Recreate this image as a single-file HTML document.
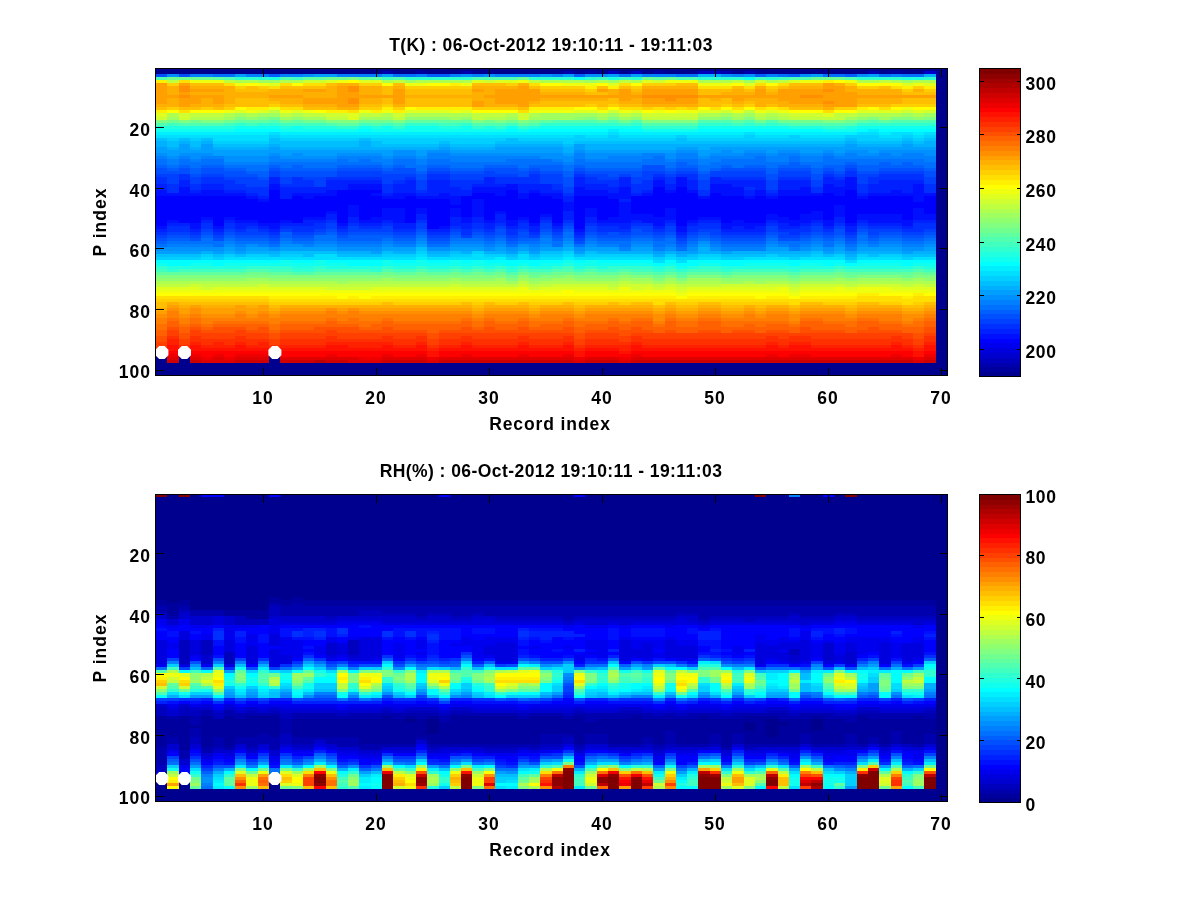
<!DOCTYPE html>
<html><head><meta charset="utf-8"><title>plot</title>
<style>
html,body{margin:0;padding:0;background:#fff;}
svg{display:block}
text{font-family:"Liberation Sans",sans-serif;font-weight:bold;fill:#000;filter:grayscale(1)}
.tk text{font-size:17.5px;letter-spacing:1px}
.lb{font-size:17.5px}
</style></head><body>
<svg width="1200" height="900" viewBox="0 0 1200 900">
<rect width="1200" height="900" fill="#fff"/>
<svg x="156" y="68.5" width="791" height="307.0" viewBox="0 0.2225 70 100.82" preserveAspectRatio="none" shape-rendering="crispEdges"><path fill="#00008f" d="M0 94h1v3h-1zM0 1h20v1h-20zM0 0h70v1h-70zM0 97h70v4h-70zM2 94h1v3h-1zM10 94h1v3h-1zM21 1h2v1h-2zM24 1h3v1h-3zM28 1h8v1h-8zM37 1h1v1h-1zM39 1h1v1h-1zM41 1h1v1h-1zM43 1h1v1h-1zM45 1h3v1h-3zM51 1h1v1h-1zM53 1h10v1h-10zM64 1h1v1h-1zM66 1h2v1h-2zM69 1h1v96h-1z"/><path fill="#00009f" d="M23 1h1v1h-1zM38 1h1v1h-1zM44 1h1v1h-1zM65 1h1v1h-1z"/><path fill="#0000af" d="M20 1h1v1h-1zM27 1h1v1h-1zM36 1h1v1h-1zM50 1h1v1h-1zM52 1h1v1h-1zM63 1h1v1h-1z"/><path fill="#0000bf" d="M40 1h1v1h-1zM42 1h1v1h-1zM48 1h2v1h-2z"/><path fill="#0000cf" d="M68 1h1v1h-1z"/><path fill="#0000ff" d="M0 50h1v2h-1zM0 49h4v1h-4zM0 42h8v1h-8zM0 43h9v1h-9zM0 47h15v2h-15zM0 45h17v2h-17zM0 44h26v1h-26zM2 50h2v1h-2zM5 49h1v3h-1zM7 49h6v1h-6zM9 50h2v1h-2zM10 40h1v3h-1zM10 43h16v1h-16zM12 42h1v1h-1zM12 50h1v1h-1zM14 42h6v1h-6zM16 47h1v4h-1zM16 41h3v1h-3zM16 40h4v1h-4zM18 49h1v1h-1zM18 46h2v3h-2zM18 45h10v1h-10zM22 42h1v1h-1zM22 46h1v5h-1zM24 52h1v1h-1zM24 46h2v6h-2zM27 43h1v2h-1zM27 46h1v3h-1zM27 42h5v1h-5zM28 41h2v1h-2zM29 47h1v3h-1zM29 43h7v4h-7zM31 40h1v2h-1zM31 49h1v1h-1zM31 48h3v1h-3zM31 47h5v1h-5zM33 41h1v1h-1zM33 49h1v2h-1zM33 42h2v1h-2zM35 48h1v3h-1zM37 46h1v7h-1zM37 42h3v1h-3zM37 43h4v3h-4zM39 49h1v1h-1zM39 46h2v3h-2zM42 46h3v2h-3zM42 42h6v1h-6zM42 45h18v1h-18zM42 43h25v1h-25zM42 44h27v1h-27zM44 39h1v2h-1zM44 48h1v1h-1zM44 41h4v1h-4zM46 39h1v2h-1zM46 50h1v2h-1zM46 49h2v1h-2zM46 48h8v1h-8zM46 47h12v1h-12zM46 46h14v1h-14zM49 41h1v1h-1zM49 42h3v1h-3zM50 50h1v1h-1zM50 49h4v1h-4zM52 50h2v1h-2zM53 42h1v1h-1zM55 48h2v1h-2zM55 42h7v1h-7zM56 49h1v1h-1zM59 41h1v1h-1zM59 47h1v3h-1zM61 40h1v2h-1zM61 48h1v3h-1zM61 46h6v2h-6zM61 45h8v1h-8zM63 42h4v1h-4zM66 48h1v2h-1zM68 42h1v2h-1zM68 46h1v2h-1z"/><path fill="#0010ff" d="M0 40h1v1h-1zM0 52h1v1h-1zM0 41h8v1h-8zM1 50h1v1h-1zM2 39h1v2h-1zM3 51h1v2h-1zM4 49h1v1h-1zM4 40h2v1h-2zM5 52h1v1h-1zM6 49h1v1h-1zM7 50h2v1h-2zM8 42h1v1h-1zM9 43h1v1h-1zM9 51h2v1h-2zM10 38h1v2h-1zM10 52h1v1h-1zM11 50h1v1h-1zM12 41h4v1h-4zM13 42h1v1h-1zM13 49h2v1h-2zM15 40h1v1h-1zM15 47h1v1h-1zM16 51h1v1h-1zM17 45h1v4h-1zM17 38h3v2h-3zM18 50h2v1h-2zM19 41h1v1h-1zM19 49h3v1h-3zM20 42h2v1h-2zM20 46h2v3h-2zM21 50h1v1h-1zM21 41h2v1h-2zM23 46h1v2h-1zM23 42h4v1h-4zM25 41h1v1h-1zM25 52h1v1h-1zM26 43h1v2h-1zM26 46h1v3h-1zM27 49h1v2h-1zM28 43h1v6h-1zM28 40h3v1h-3zM28 39h4v1h-4zM29 50h1v1h-1zM30 41h1v1h-1zM30 47h1v1h-1zM31 38h1v1h-1zM31 50h1v2h-1zM32 41h1v2h-1zM32 49h1v1h-1zM33 40h1v1h-1zM33 51h1v1h-1zM34 48h1v1h-1zM34 41h2v1h-2zM35 42h1v1h-1zM35 51h1v1h-1zM36 44h1v3h-1zM37 39h1v1h-1zM37 53h1v1h-1zM37 40h3v1h-3zM37 41h5v1h-5zM38 46h1v3h-1zM39 50h3v1h-3zM40 42h2v1h-2zM40 49h6v1h-6zM41 39h1v2h-1zM41 44h1v4h-1zM41 48h3v1h-3zM43 41h1v1h-1zM43 50h2v1h-2zM44 37h1v2h-1zM44 51h1v1h-1zM45 40h1v1h-1zM45 46h1v3h-1zM46 36h1v3h-1zM46 52h1v2h-1zM47 40h1v1h-1zM47 50h1v1h-1zM48 42h1v1h-1zM48 49h2v1h-2zM49 38h2v1h-2zM49 39h3v2h-3zM50 52h1v1h-1zM50 41h2v1h-2zM50 51h4v1h-4zM51 50h1v1h-1zM52 42h1v1h-1zM52 52h1v1h-1zM53 40h1v2h-1zM54 42h1v1h-1zM54 48h1v1h-1zM54 49h2v1h-2zM55 40h3v1h-3zM55 50h3v1h-3zM55 41h4v1h-4zM56 51h1v1h-1zM57 39h1v1h-1zM57 48h2v2h-2zM58 47h1v1h-1zM59 38h1v1h-1zM59 50h1v2h-1zM59 40h2v1h-2zM59 39h3v1h-3zM60 41h1v1h-1zM60 45h1v4h-1zM61 36h1v3h-1zM61 51h1v1h-1zM62 42h1v1h-1zM62 48h4v2h-4zM63 50h4v1h-4zM63 41h6v1h-6zM65 40h1v1h-1zM66 51h1v1h-1zM67 38h1v3h-1zM67 42h1v2h-1zM67 46h1v2h-1zM67 48h2v2h-2z"/><path fill="#0020ff" d="M0 38h1v2h-1zM0 53h1v1h-1zM1 51h2v1h-2zM2 37h1v2h-1zM3 40h1v1h-1zM3 53h1v1h-1zM4 50h1v1h-1zM4 38h2v2h-2zM5 53h1v1h-1zM6 50h1v1h-1zM6 40h2v1h-2zM7 52h1v1h-1zM7 51h2v1h-2zM8 41h1v1h-1zM9 42h1v1h-1zM9 52h1v1h-1zM10 36h1v2h-1zM10 53h1v1h-1zM11 41h1v2h-1zM11 51h3v1h-3zM11 40h4v1h-4zM11 39h6v1h-6zM13 50h2v1h-2zM15 48h1v2h-1zM15 38h2v1h-2zM15 37h5v1h-5zM16 52h1v1h-1zM17 49h1v2h-1zM18 51h2v1h-2zM20 41h1v1h-1zM20 50h1v1h-1zM21 38h2v3h-2zM21 51h2v2h-2zM22 37h1v1h-1zM23 48h1v2h-1zM23 41h2v1h-2zM24 37h2v2h-2zM24 53h2v1h-2zM24 39h3v1h-3zM24 40h4v1h-4zM26 49h1v2h-1zM26 41h2v1h-2zM26 51h2v1h-2zM27 52h1v1h-1zM28 49h1v2h-1zM28 38h3v1h-3zM29 36h1v2h-1zM29 51h1v2h-1zM30 48h1v3h-1zM31 52h1v1h-1zM32 40h1v1h-1zM32 50h1v1h-1zM32 38h3v2h-3zM33 52h1v2h-1zM34 49h1v1h-1zM34 40h2v1h-2zM35 52h1v1h-1zM36 42h1v2h-1zM36 47h1v3h-1zM37 36h1v2h-1zM37 54h1v1h-1zM37 38h3v1h-3zM38 49h1v2h-1zM38 39h3v1h-3zM39 51h3v1h-3zM40 40h1v1h-1zM41 36h1v3h-1zM41 43h1v1h-1zM41 52h1v1h-1zM42 41h1v1h-1zM42 50h1v1h-1zM43 40h1v1h-1zM44 36h1v1h-1zM44 52h1v1h-1zM45 38h1v2h-1zM45 50h1v1h-1zM46 54h1v1h-1zM47 37h1v3h-1zM47 51h1v1h-1zM48 50h2v1h-2zM49 36h1v1h-1zM49 37h5v1h-5zM50 53h4v1h-4zM51 52h1v1h-1zM51 38h3v1h-3zM52 40h1v2h-1zM53 39h1v1h-1zM53 52h1v1h-1zM54 41h1v1h-1zM54 50h1v1h-1zM55 51h1v1h-1zM55 39h2v1h-2zM55 52h2v1h-2zM55 37h3v2h-3zM57 51h1v1h-1zM58 50h1v1h-1zM59 36h1v1h-1zM59 52h1v1h-1zM59 37h2v1h-2zM60 38h1v1h-1zM60 49h1v2h-1zM61 52h1v2h-1zM62 41h1v1h-1zM62 50h1v1h-1zM63 40h2v1h-2zM63 51h3v1h-3zM63 38h4v2h-4zM64 37h4v1h-4zM66 40h1v1h-1zM66 52h1v1h-1zM67 50h2v1h-2z"/><path fill="#0030ff" d="M0 36h1v2h-1zM0 54h1v1h-1zM1 38h1v3h-1zM1 52h2v2h-2zM2 35h1v2h-1zM3 38h1v2h-1zM3 54h1v1h-1zM4 51h1v2h-1zM4 36h2v1h-2zM4 37h3v1h-3zM5 54h1v1h-1zM6 51h1v2h-1zM6 38h2v1h-2zM6 39h4v1h-4zM7 53h1v1h-1zM8 52h1v1h-1zM8 40h2v1h-2zM9 41h1v1h-1zM9 53h1v1h-1zM10 54h1v1h-1zM11 38h3v1h-3zM11 52h4v1h-4zM12 36h1v1h-1zM12 37h2v1h-2zM12 53h2v1h-2zM14 51h1v1h-1zM15 50h1v1h-1zM15 36h5v1h-5zM16 53h1v1h-1zM17 51h1v1h-1zM18 52h2v1h-2zM20 38h1v3h-1zM20 51h1v1h-1zM21 37h1v1h-1zM21 53h2v1h-2zM22 36h1v1h-1zM23 40h1v1h-1zM23 50h1v1h-1zM24 35h2v2h-2zM24 54h2v1h-2zM26 52h1v1h-1zM26 38h2v1h-2zM26 37h3v1h-3zM27 39h1v1h-1zM27 53h1v2h-1zM28 51h1v2h-1zM29 53h1v1h-1zM30 51h1v1h-1zM30 36h4v2h-4zM31 53h1v2h-1zM32 51h1v2h-1zM33 35h1v1h-1zM33 54h1v1h-1zM34 50h1v1h-1zM35 38h1v2h-1zM35 53h1v1h-1zM36 41h1v1h-1zM36 50h1v1h-1zM37 35h1v1h-1zM37 55h1v1h-1zM38 36h1v1h-1zM38 51h1v1h-1zM38 37h3v1h-3zM39 52h2v1h-2zM39 53h3v1h-3zM40 38h1v1h-1zM42 40h1v1h-1zM42 38h2v2h-2zM42 51h2v1h-2zM43 37h1v1h-1zM44 35h1v1h-1zM44 53h1v1h-1zM45 36h1v2h-1zM45 51h1v1h-1zM46 55h1v1h-1zM46 35h2v1h-2zM47 36h1v1h-1zM47 53h1v1h-1zM47 52h3v1h-3zM48 40h1v2h-1zM48 51h2v1h-2zM50 36h4v1h-4zM50 54h4v1h-4zM52 39h1v1h-1zM54 40h1v1h-1zM54 51h1v1h-1zM55 36h3v1h-3zM55 53h3v1h-3zM56 54h1v1h-1zM57 52h1v1h-1zM58 39h1v2h-1zM58 51h1v1h-1zM59 35h1v1h-1zM59 53h1v1h-1zM60 36h1v1h-1zM60 51h1v1h-1zM61 34h1v2h-1zM61 54h1v1h-1zM62 38h1v3h-1zM62 51h1v1h-1zM63 37h1v1h-1zM63 52h3v1h-3zM63 36h5v1h-5zM64 35h4v1h-4zM66 53h2v1h-2zM67 51h2v2h-2zM68 38h1v3h-1z"/><path fill="#0040ff" d="M0 55h1v1h-1zM0 35h2v1h-2zM1 36h1v2h-1zM1 54h2v1h-2zM3 36h1v2h-1zM3 55h1v1h-1zM4 53h1v1h-1zM4 35h2v1h-2zM5 55h1v1h-1zM6 53h1v1h-1zM6 36h3v1h-3zM7 37h3v1h-3zM7 54h3v1h-3zM8 53h1v1h-1zM8 38h2v1h-2zM10 34h1v2h-1zM10 55h1v1h-1zM11 36h1v2h-1zM11 53h1v1h-1zM12 54h2v1h-2zM13 36h2v1h-2zM14 37h1v2h-1zM14 53h1v1h-1zM15 51h1v2h-1zM16 54h1v1h-1zM16 34h4v1h-4zM16 35h7v1h-7zM17 52h1v1h-1zM17 53h4v1h-4zM20 37h1v1h-1zM20 52h1v1h-1zM20 36h2v1h-2zM21 54h2v1h-2zM23 37h1v3h-1zM23 51h1v2h-1zM24 34h2v1h-2zM24 55h2v1h-2zM26 53h1v1h-1zM26 36h3v1h-3zM26 35h6v1h-6zM27 55h1v1h-1zM28 53h1v1h-1zM29 34h1v1h-1zM29 54h1v1h-1zM30 52h1v1h-1zM31 55h1v1h-1zM32 53h1v1h-1zM33 34h1v1h-1zM33 55h1v1h-1zM34 51h1v2h-1zM34 35h2v3h-2zM35 54h1v1h-1zM36 39h1v2h-1zM36 51h1v1h-1zM37 34h1v1h-1zM37 56h1v1h-1zM38 52h1v2h-1zM38 35h2v1h-2zM39 54h1v1h-1zM39 36h2v1h-2zM41 35h1v1h-1zM41 54h1v1h-1zM42 37h1v1h-1zM42 36h2v1h-2zM42 52h2v1h-2zM43 35h1v1h-1zM43 53h1v1h-1zM43 34h2v1h-2zM44 54h1v1h-1zM45 35h1v1h-1zM45 52h1v2h-1zM46 56h1v1h-1zM46 34h2v1h-2zM47 54h1v1h-1zM48 37h1v3h-1zM48 53h2v1h-2zM49 54h1v1h-1zM49 34h5v2h-5zM50 55h4v1h-4zM54 37h1v3h-1zM54 52h1v2h-1zM55 54h1v1h-1zM55 55h2v1h-2zM55 34h3v2h-3zM57 54h1v1h-1zM58 37h1v2h-1zM58 52h1v2h-1zM59 34h1v1h-1zM59 54h1v1h-1zM60 35h1v1h-1zM60 52h1v1h-1zM61 33h1v1h-1zM61 55h1v1h-1zM62 36h1v2h-1zM62 52h1v1h-1zM62 35h2v1h-2zM63 54h1v1h-1zM63 53h3v1h-3zM64 34h4v1h-4zM66 54h2v1h-2zM68 36h1v2h-1zM68 53h1v1h-1z"/><path fill="#0050ff" d="M0 2h1v1h-1zM0 33h1v1h-1zM0 56h1v1h-1zM0 34h3v1h-3zM1 55h2v1h-2zM2 2h1v1h-1zM2 33h1v1h-1zM3 35h1v1h-1zM3 56h1v1h-1zM4 54h1v1h-1zM4 33h2v1h-2zM4 34h4v1h-4zM5 56h1v1h-1zM6 54h1v1h-1zM6 35h3v1h-3zM7 55h3v1h-3zM9 36h1v1h-1zM10 33h1v1h-1zM10 56h1v1h-1zM11 34h5v2h-5zM12 55h2v1h-2zM14 54h1v1h-1zM15 53h1v1h-1zM16 55h1v1h-1zM16 33h4v1h-4zM17 54h4v1h-4zM20 34h3v1h-3zM21 33h2v1h-2zM21 55h2v1h-2zM23 35h1v2h-1zM23 53h1v1h-1zM24 33h2v1h-2zM24 56h2v1h-2zM26 54h1v1h-1zM26 34h3v1h-3zM28 54h1v1h-1zM29 55h1v1h-1zM29 33h3v1h-3zM30 53h1v2h-1zM30 34h3v1h-3zM31 56h1v1h-1zM32 35h1v1h-1zM32 54h1v2h-1zM33 33h1v1h-1zM34 53h1v1h-1zM34 34h2v1h-2zM35 55h1v1h-1zM36 36h1v3h-1zM36 52h1v1h-1zM37 33h1v1h-1zM37 57h1v1h-1zM38 54h1v1h-1zM38 34h5v1h-5zM39 55h3v1h-3zM40 35h1v1h-1zM40 54h1v1h-1zM42 35h1v1h-1zM42 53h1v1h-1zM42 54h2v1h-2zM43 32h2v2h-2zM44 55h1v1h-1zM45 34h1v1h-1zM45 54h1v1h-1zM46 57h1v1h-1zM46 33h2v1h-2zM47 55h1v1h-1zM48 35h1v2h-1zM48 54h1v1h-1zM49 55h1v1h-1zM50 33h4v1h-4zM50 56h4v1h-4zM54 35h1v2h-1zM54 54h1v1h-1zM55 56h2v1h-2zM55 33h3v1h-3zM57 55h1v1h-1zM58 35h1v2h-1zM58 54h1v1h-1zM59 33h1v1h-1zM59 55h1v1h-1zM60 34h1v1h-1zM60 53h1v2h-1zM61 32h1v1h-1zM61 56h1v1h-1zM62 53h1v1h-1zM62 34h2v1h-2zM63 55h1v1h-1zM64 54h2v1h-2zM64 33h4v1h-4zM66 55h2v1h-2zM68 34h1v2h-1zM68 54h1v1h-1z"/><path fill="#0060ff" d="M0 32h1v1h-1zM0 57h1v1h-1zM1 33h1v1h-1zM1 56h2v1h-2zM2 32h1v1h-1zM3 33h1v2h-1zM4 55h1v1h-1zM4 32h2v1h-2zM6 55h1v1h-1zM6 33h2v1h-2zM7 56h3v1h-3zM8 34h2v1h-2zM9 35h1v1h-1zM10 2h1v1h-1zM10 32h1v1h-1zM10 57h1v1h-1zM11 54h1v2h-1zM11 33h5v1h-5zM12 32h1v1h-1zM12 56h2v1h-2zM15 54h1v1h-1zM16 32h4v1h-4zM16 56h4v1h-4zM17 55h4v1h-4zM20 33h1v1h-1zM21 32h1v1h-1zM21 56h2v1h-2zM23 34h1v1h-1zM23 54h1v1h-1zM24 2h2v1h-2zM24 32h2v1h-2zM24 57h2v1h-2zM26 55h1v1h-1zM26 33h3v1h-3zM28 55h1v1h-1zM29 56h1v1h-1zM29 32h3v1h-3zM30 55h1v1h-1zM31 57h1v1h-1zM32 33h1v1h-1zM32 56h2v1h-2zM33 32h3v1h-3zM34 54h1v1h-1zM34 33h2v1h-2zM35 56h1v1h-1zM36 34h1v2h-1zM36 53h1v1h-1zM37 2h1v1h-1zM37 32h1v1h-1zM38 55h1v1h-1zM38 33h5v1h-5zM39 56h3v1h-3zM42 55h2v1h-2zM44 56h1v1h-1zM45 33h1v1h-1zM45 55h1v1h-1zM46 31h1v1h-1zM46 58h1v1h-1zM46 32h2v1h-2zM47 56h1v1h-1zM48 34h1v1h-1zM48 55h1v1h-1zM49 33h1v1h-1zM49 56h1v1h-1zM50 32h1v1h-1zM50 57h4v1h-4zM52 32h2v1h-2zM53 2h1v1h-1zM54 33h1v2h-1zM54 55h1v1h-1zM55 32h3v1h-3zM56 2h1v1h-1zM56 31h1v1h-1zM57 56h1v1h-1zM58 33h1v2h-1zM58 55h1v1h-1zM59 56h1v1h-1zM59 32h2v1h-2zM60 33h1v1h-1zM60 55h1v1h-1zM61 2h1v1h-1zM61 31h1v1h-1zM61 57h1v1h-1zM62 54h1v1h-1zM62 33h2v1h-2zM62 32h6v1h-6zM63 56h1v1h-1zM64 31h1v1h-1zM64 55h2v1h-2zM66 31h1v1h-1zM66 56h2v1h-2zM68 33h1v1h-1zM68 55h1v1h-1z"/><path fill="#0070ff" d="M0 30h1v2h-1zM0 58h1v1h-1zM1 32h1v1h-1zM1 57h5v1h-5zM2 30h1v1h-1zM2 31h4v1h-4zM3 32h1v1h-1zM4 56h1v1h-1zM4 30h2v1h-2zM5 58h1v1h-1zM5 2h2v1h-2zM6 56h1v1h-1zM6 32h4v1h-4zM7 57h3v1h-3zM8 33h2v1h-2zM10 58h1v1h-1zM10 31h10v1h-10zM11 32h1v1h-1zM11 56h1v1h-1zM12 57h2v1h-2zM13 32h3v1h-3zM14 55h2v2h-2zM16 30h1v1h-1zM16 57h4v1h-4zM18 30h1v1h-1zM20 32h1v1h-1zM20 56h1v1h-1zM21 2h2v1h-2zM21 30h2v2h-2zM21 57h2v1h-2zM22 32h2v1h-2zM23 33h1v1h-1zM23 55h1v1h-1zM24 30h2v1h-2zM24 58h2v1h-2zM24 31h12v1h-12zM26 32h3v1h-3zM26 56h3v1h-3zM29 57h1v1h-1zM30 56h1v1h-1zM31 58h1v1h-1zM31 30h4v1h-4zM32 32h1v1h-1zM32 57h2v1h-2zM34 55h1v1h-1zM35 57h1v2h-1zM36 32h1v2h-1zM36 54h1v2h-1zM37 30h1v1h-1zM37 58h1v1h-1zM37 31h9v1h-9zM38 56h1v1h-1zM38 32h5v1h-5zM39 57h3v1h-3zM41 2h1v1h-1zM41 58h1v1h-1zM42 56h2v1h-2zM43 30h2v1h-2zM44 29h1v1h-1zM44 58h1v1h-1zM44 57h2v1h-2zM45 32h1v1h-1zM45 56h1v1h-1zM46 59h1v1h-1zM46 2h2v1h-2zM46 30h2v1h-2zM47 31h1v1h-1zM47 57h1v1h-1zM48 33h1v1h-1zM48 56h1v1h-1zM48 32h2v1h-2zM49 57h1v1h-1zM49 31h7v1h-7zM50 30h4v1h-4zM50 58h4v1h-4zM51 32h1v1h-1zM53 29h1v1h-1zM54 32h1v1h-1zM54 56h1v1h-1zM55 2h1v1h-1zM55 57h3v1h-3zM56 29h1v2h-1zM56 58h1v1h-1zM57 31h4v1h-4zM58 32h1v1h-1zM58 56h1v1h-1zM59 29h1v1h-1zM59 57h1v2h-1zM59 2h2v1h-2zM59 30h9v1h-9zM60 56h1v1h-1zM61 58h1v1h-1zM62 55h1v2h-1zM62 31h2v1h-2zM63 57h1v1h-1zM64 2h1v1h-1zM64 56h2v1h-2zM65 31h1v1h-1zM66 2h2v1h-2zM66 57h2v1h-2zM67 31h2v1h-2zM68 32h1v1h-1zM68 56h1v1h-1z"/><path fill="#0080ff" d="M0 29h1v1h-1zM1 30h1v2h-1zM1 58h4v1h-4zM2 29h1v1h-1zM3 30h1v1h-1zM3 2h2v1h-2zM4 29h2v1h-2zM6 57h1v1h-1zM6 31h4v1h-4zM7 58h1v1h-1zM8 2h2v1h-2zM9 58h1v1h-1zM10 29h1v1h-1zM10 30h6v1h-6zM11 57h1v1h-1zM11 2h2v1h-2zM13 58h1v1h-1zM14 57h2v1h-2zM16 2h4v1h-4zM16 29h4v1h-4zM16 58h4v1h-4zM17 30h1v1h-1zM19 30h2v1h-2zM20 31h1v1h-1zM20 57h1v1h-1zM21 29h2v1h-2zM21 58h2v1h-2zM23 2h1v1h-1zM23 30h1v2h-1zM23 56h1v1h-1zM24 28h2v1h-2zM24 29h10v1h-10zM26 2h1v1h-1zM26 57h3v1h-3zM26 30h5v1h-5zM28 2h1v1h-1zM29 58h1v1h-1zM30 57h1v1h-1zM30 2h4v1h-4zM33 58h1v1h-1zM34 56h1v2h-1zM35 2h1v1h-1zM35 30h1v1h-1zM36 31h1v1h-1zM36 56h1v1h-1zM37 28h1v2h-1zM38 57h1v1h-1zM38 30h5v1h-5zM39 58h2v1h-2zM40 29h4v1h-4zM41 59h1v1h-1zM42 57h2v1h-2zM43 28h2v1h-2zM43 2h3v1h-3zM44 59h1v1h-1zM45 30h1v1h-1zM45 58h1v1h-1zM46 28h2v2h-2zM47 58h1v1h-1zM48 31h1v1h-1zM48 30h2v1h-2zM49 58h1v1h-1zM49 29h4v1h-4zM50 59h4v1h-4zM51 2h1v1h-1zM52 28h2v1h-2zM54 2h1v1h-1zM54 57h1v1h-1zM54 29h2v2h-2zM55 58h1v1h-1zM55 28h2v1h-2zM56 59h1v1h-1zM57 58h1v1h-1zM57 29h2v2h-2zM58 57h1v1h-1zM59 28h1v1h-1zM60 57h1v1h-1zM60 29h9v1h-9zM61 28h1v1h-1zM61 59h1v1h-1zM62 57h1v1h-1zM63 58h1v1h-1zM64 28h1v1h-1zM64 57h2v1h-2zM65 2h1v1h-1zM66 28h2v1h-2zM66 58h2v1h-2zM68 30h1v1h-1zM68 57h1v1h-1z"/><path fill="#008fff" d="M0 28h1v1h-1zM0 59h6v1h-6zM1 2h1v1h-1zM1 29h1v1h-1zM2 28h3v1h-3zM3 29h1v1h-1zM6 58h1v1h-1zM6 29h4v2h-4zM7 59h1v1h-1zM8 58h1v1h-1zM10 28h1v1h-1zM10 59h1v1h-1zM11 58h2v1h-2zM11 29h5v1h-5zM12 28h1v1h-1zM13 2h1v1h-1zM14 58h2v1h-2zM16 28h4v1h-4zM16 59h4v1h-4zM20 29h1v1h-1zM20 58h1v1h-1zM21 27h2v2h-2zM23 29h1v1h-1zM23 57h1v1h-1zM24 27h2v1h-2zM24 59h2v1h-2zM26 58h3v1h-3zM26 28h10v1h-10zM27 2h1v1h-1zM29 2h1v1h-1zM29 59h1v1h-1zM30 58h1v1h-1zM31 59h1v1h-1zM32 58h1v1h-1zM33 59h1v1h-1zM34 2h1v1h-1zM34 58h1v1h-1zM34 29h3v1h-3zM36 30h1v1h-1zM36 57h1v1h-1zM37 27h1v1h-1zM37 59h1v1h-1zM38 58h1v1h-1zM38 2h2v1h-2zM38 29h2v1h-2zM38 28h5v1h-5zM42 58h2v1h-2zM45 28h1v2h-1zM45 59h1v1h-1zM46 27h2v1h-2zM47 59h1v1h-1zM48 29h1v1h-1zM48 57h1v1h-1zM49 59h1v1h-1zM49 28h3v1h-3zM50 2h1v1h-1zM50 27h1v1h-1zM52 2h1v1h-1zM52 27h2v1h-2zM54 28h1v1h-1zM54 58h1v1h-1zM55 27h2v1h-2zM57 2h1v1h-1zM57 59h1v1h-1zM57 28h2v1h-2zM58 58h1v1h-1zM59 27h1v1h-1zM59 59h1v1h-1zM60 28h1v1h-1zM60 58h1v1h-1zM61 27h2v1h-2zM62 2h1v1h-1zM62 58h1v1h-1zM62 28h2v1h-2zM64 58h2v1h-2zM64 27h5v1h-5zM65 28h1v1h-1zM66 59h2v1h-2zM68 28h1v1h-1zM68 58h1v1h-1z"/><path fill="#009fff" d="M0 26h1v1h-1zM0 60h4v1h-4zM0 27h21v1h-21zM1 28h1v1h-1zM2 25h1v2h-1zM4 25h1v2h-1zM5 60h1v1h-1zM5 28h5v1h-5zM6 59h1v1h-1zM7 2h1v1h-1zM7 60h1v1h-1zM8 59h2v1h-2zM10 26h1v1h-1zM11 28h1v1h-1zM11 59h5v1h-5zM13 28h3v1h-3zM14 2h2v1h-2zM19 60h1v1h-1zM20 2h1v1h-1zM20 28h1v1h-1zM20 59h3v1h-3zM23 27h1v2h-1zM23 58h1v1h-1zM25 26h1v1h-1zM26 59h3v1h-3zM26 27h10v1h-10zM30 59h1v1h-1zM30 26h6v1h-6zM31 60h1v1h-1zM32 59h1v1h-1zM33 60h1v1h-1zM34 59h2v1h-2zM36 2h1v1h-1zM36 28h1v1h-1zM36 58h1v1h-1zM37 25h1v2h-1zM37 60h1v1h-1zM38 59h3v1h-3zM38 27h8v1h-8zM40 2h1v1h-1zM42 2h1v1h-1zM42 59h2v1h-2zM44 60h1v1h-1zM46 26h2v1h-2zM46 60h2v1h-2zM48 28h1v1h-1zM48 58h1v1h-1zM48 27h2v1h-2zM49 26h20v1h-20zM50 60h1v1h-1zM51 27h1v1h-1zM54 27h1v1h-1zM54 59h2v1h-2zM57 27h2v1h-2zM58 2h1v1h-1zM58 59h1v1h-1zM59 60h1v1h-1zM60 27h1v1h-1zM60 59h1v1h-1zM61 25h1v1h-1zM61 60h1v1h-1zM62 59h4v1h-4zM63 2h1v1h-1zM63 27h1v1h-1zM66 25h1v1h-1zM66 60h1v1h-1zM68 59h1v1h-1z"/><path fill="#00afff" d="M0 24h1v2h-1zM1 26h1v1h-1zM2 24h1v1h-1zM3 26h1v1h-1zM4 24h1v1h-1zM4 60h1v1h-1zM5 26h5v1h-5zM6 60h1v1h-1zM8 60h3v1h-3zM10 25h1v1h-1zM11 26h14v1h-14zM16 60h3v1h-3zM18 24h1v2h-1zM21 60h2v1h-2zM24 60h2v1h-2zM25 25h1v1h-1zM26 26h4v1h-4zM27 60h1v1h-1zM29 60h2v1h-2zM30 25h6v1h-6zM36 26h1v2h-1zM36 59h1v1h-1zM38 26h8v1h-8zM38 25h23v1h-23zM39 60h5v1h-5zM44 61h1v1h-1zM45 60h1v1h-1zM46 61h1v1h-1zM48 26h1v1h-1zM48 59h1v1h-1zM48 2h2v1h-2zM48 60h2v1h-2zM51 60h7v1h-7zM60 60h1v1h-1zM61 24h1v1h-1zM61 61h1v1h-1zM62 25h4v1h-4zM62 60h4v1h-4zM66 24h1v1h-1zM67 25h2v1h-2zM67 60h2v1h-2zM68 2h1v1h-1zM68 24h1v1h-1z"/><path fill="#00bfff" d="M0 23h1v1h-1zM0 61h4v1h-4zM1 24h1v2h-1zM2 23h1v1h-1zM3 24h1v2h-1zM4 23h1v1h-1zM5 61h1v1h-1zM5 25h5v1h-5zM7 61h1v1h-1zM10 23h1v1h-1zM10 61h1v1h-1zM10 24h8v1h-8zM11 60h5v1h-5zM11 25h7v1h-7zM13 61h1v1h-1zM16 61h4v1h-4zM18 23h1v1h-1zM19 24h1v1h-1zM19 25h6v1h-6zM20 60h1v1h-1zM23 59h1v1h-1zM24 61h2v1h-2zM25 24h1v1h-1zM26 60h1v1h-1zM26 25h4v1h-4zM30 24h6v1h-6zM31 23h1v1h-1zM31 61h1v1h-1zM32 60h1v1h-1zM33 61h1v1h-1zM34 60h2v1h-2zM36 25h1v1h-1zM37 61h1v1h-1zM37 24h24v1h-24zM38 60h1v1h-1zM46 23h1v1h-1zM47 61h1v1h-1zM50 61h4v1h-4zM55 61h3v1h-3zM58 60h1v1h-1zM59 61h1v1h-1zM61 23h1v1h-1zM61 62h1v1h-1zM62 24h4v1h-4zM63 61h1v1h-1zM66 23h1v1h-1zM66 61h3v1h-3zM67 24h1v1h-1zM68 23h1v1h-1z"/><path fill="#00cfff" d="M0 62h4v1h-4zM1 23h1v1h-1zM3 23h1v1h-1zM4 61h1v1h-1zM5 62h1v1h-1zM5 24h5v1h-5zM6 61h1v1h-1zM8 61h2v1h-2zM10 22h1v1h-1zM11 61h2v1h-2zM11 23h7v1h-7zM19 23h12v1h-12zM20 61h3v1h-3zM20 24h5v1h-5zM23 60h1v1h-1zM26 61h2v1h-2zM26 24h4v1h-4zM28 60h1v1h-1zM29 61h2v1h-2zM31 62h1v1h-1zM32 23h14v1h-14zM33 62h1v1h-1zM34 61h2v1h-2zM36 24h1v1h-1zM36 60h1v1h-1zM37 22h1v1h-1zM38 61h6v1h-6zM40 22h1v1h-1zM44 62h1v1h-1zM45 61h1v1h-1zM46 22h1v1h-1zM46 62h2v1h-2zM47 23h14v1h-14zM48 61h2v1h-2zM50 62h2v1h-2zM52 22h1v1h-1zM54 61h1v1h-1zM56 22h1v1h-1zM56 62h1v1h-1zM58 61h1v1h-1zM60 61h1v1h-1zM61 22h3v1h-3zM62 61h1v1h-1zM62 23h4v1h-4zM64 61h2v1h-2zM66 22h1v1h-1zM66 62h1v1h-1zM67 23h1v1h-1zM68 22h1v1h-1z"/><path fill="#00dfff" d="M0 22h10v1h-10zM4 62h1v1h-1zM5 23h5v1h-5zM6 62h17v1h-17zM10 21h1v1h-1zM11 22h26v1h-26zM14 61h2v1h-2zM23 61h1v1h-1zM24 62h6v1h-6zM28 61h1v1h-1zM32 61h1v2h-1zM34 62h2v1h-2zM36 61h1v1h-1zM37 62h7v1h-7zM38 22h2v1h-2zM40 21h1v1h-1zM41 22h5v1h-5zM44 63h1v1h-1zM45 62h1v1h-1zM46 63h1v1h-1zM47 22h5v1h-5zM48 62h2v1h-2zM52 21h1v1h-1zM52 62h4v1h-4zM53 22h3v1h-3zM57 22h4v1h-4zM57 62h4v1h-4zM61 63h1v1h-1zM62 21h2v1h-2zM62 62h4v1h-4zM64 22h2v1h-2zM65 21h2v1h-2zM67 22h1v1h-1zM67 62h2v1h-2zM68 21h1v1h-1z"/><path fill="#00efff" d="M0 21h10v1h-10zM11 21h29v1h-29zM23 62h1v1h-1zM30 62h1v1h-1zM36 62h1v1h-1zM40 20h1v1h-1zM41 21h11v1h-11zM53 21h9v1h-9zM63 20h1v1h-1zM64 21h1v1h-1zM67 21h1v1h-1z"/><path fill="#00ffff" d="M0 63h11v1h-11zM1 64h2v1h-2zM5 64h1v1h-1zM7 20h4v1h-4zM12 63h2v1h-2zM15 63h5v1h-5zM17 64h3v1h-3zM18 20h1v1h-1zM21 63h2v1h-2zM24 63h2v1h-2zM27 63h1v1h-1zM29 63h7v1h-7zM31 20h1v1h-1zM31 64h1v1h-1zM33 64h1v1h-1zM33 20h7v1h-7zM37 63h1v1h-1zM39 63h5v1h-5zM41 20h2v1h-2zM44 64h1v1h-1zM45 63h1v1h-1zM46 64h2v1h-2zM47 63h14v1h-14zM48 20h11v1h-11zM50 64h2v1h-2zM56 64h1v1h-1zM59 64h1v1h-1zM61 64h1v1h-1zM62 20h1v1h-1zM62 63h7v1h-7zM64 20h5v1h-5zM66 64h1v1h-1z"/><path fill="#10ffef" d="M0 64h1v1h-1zM0 20h7v1h-7zM3 64h2v1h-2zM6 64h11v1h-11zM7 19h4v1h-4zM11 63h1v1h-1zM11 20h7v1h-7zM12 19h1v1h-1zM14 63h1v1h-1zM18 19h1v1h-1zM19 20h12v1h-12zM20 19h1v1h-1zM20 63h1v1h-1zM20 64h11v1h-11zM22 19h3v1h-3zM23 63h1v1h-1zM26 63h1v1h-1zM27 19h1v1h-1zM28 63h1v1h-1zM31 19h1v1h-1zM32 20h1v1h-1zM32 64h1v1h-1zM34 64h2v1h-2zM34 19h9v1h-9zM36 63h1v1h-1zM37 3h1v1h-1zM37 64h7v1h-7zM38 63h1v1h-1zM43 20h5v1h-5zM45 64h1v1h-1zM46 65h1v1h-1zM48 64h2v1h-2zM48 19h8v1h-8zM52 3h1v1h-1zM52 64h4v1h-4zM57 64h2v1h-2zM59 20h3v1h-3zM60 64h1v1h-1zM62 64h4v1h-4zM62 19h7v1h-7zM67 64h2v1h-2z"/><path fill="#20ffdf" d="M0 19h7v1h-7zM1 65h7v1h-7zM10 3h1v1h-1zM11 19h1v1h-1zM12 65h2v1h-2zM13 19h3v1h-3zM15 65h5v1h-5zM19 19h1v1h-1zM21 65h2v1h-2zM24 65h2v1h-2zM25 19h2v1h-2zM27 65h1v1h-1zM29 19h1v1h-1zM29 65h1v1h-1zM31 65h1v1h-1zM33 19h1v1h-1zM33 65h2v1h-2zM36 64h1v1h-1zM37 65h1v1h-1zM39 65h1v1h-1zM40 3h1v1h-1zM44 65h1v1h-1zM47 65h1v1h-1zM50 65h10v1h-10zM56 19h3v1h-3zM61 19h1v1h-1zM61 65h6v1h-6zM66 3h2v1h-2zM68 65h1v1h-1z"/><path fill="#30ffcf" d="M0 65h1v1h-1zM1 66h1v1h-1zM7 18h1v1h-1zM7 3h3v1h-3zM8 65h4v1h-4zM9 18h2v1h-2zM12 66h2v1h-2zM14 65h1v1h-1zM16 19h2v1h-2zM19 66h1v1h-1zM20 65h1v1h-1zM21 19h1v1h-1zM22 18h3v1h-3zM22 3h6v1h-6zM23 65h1v1h-1zM26 65h1v1h-1zM27 18h1v1h-1zM28 19h1v1h-1zM28 65h1v1h-1zM30 19h1v1h-1zM30 65h1v1h-1zM31 66h1v1h-1zM32 19h1v1h-1zM32 65h1v1h-1zM33 3h4v1h-4zM34 18h7v1h-7zM35 65h1v1h-1zM38 3h1v1h-1zM38 65h1v1h-1zM40 65h4v1h-4zM42 3h1v1h-1zM42 18h1v1h-1zM43 19h5v1h-5zM44 66h1v1h-1zM45 65h1v1h-1zM46 66h1v1h-1zM48 65h2v1h-2zM48 18h3v1h-3zM48 3h4v1h-4zM50 66h1v1h-1zM52 18h1v1h-1zM54 3h1v1h-1zM54 18h1v1h-1zM56 66h1v1h-1zM59 19h2v1h-2zM60 65h1v1h-1zM62 3h4v1h-4zM62 18h7v1h-7zM67 65h1v1h-1zM68 3h1v1h-1z"/><path fill="#40ffbf" d="M0 66h1v1h-1zM1 18h1v1h-1zM2 66h6v1h-6zM6 18h1v1h-1zM8 18h1v1h-1zM10 66h2v1h-2zM11 18h4v1h-4zM12 3h1v1h-1zM14 66h5v1h-5zM18 18h1v1h-1zM20 3h1v1h-1zM20 18h1v1h-1zM21 66h2v1h-2zM24 66h2v1h-2zM25 18h2v1h-2zM27 66h1v1h-1zM29 66h1v1h-1zM31 18h1v1h-1zM33 66h2v1h-2zM36 65h1v1h-1zM37 66h1v1h-1zM39 3h1v1h-1zM39 66h2v1h-2zM41 3h1v1h-1zM41 18h1v1h-1zM42 66h2v1h-2zM45 66h1v1h-1zM47 66h3v1h-3zM51 18h1v1h-1zM51 66h5v1h-5zM53 3h1v1h-1zM53 18h1v1h-1zM55 3h1v1h-1zM55 18h1v1h-1zM57 66h3v1h-3zM61 66h6v1h-6zM68 66h1v1h-1z"/><path fill="#50ffaf" d="M0 3h1v1h-1zM0 18h1v1h-1zM2 18h4v1h-4zM6 3h1v1h-1zM8 66h2v1h-2zM10 17h1v1h-1zM11 3h1v1h-1zM12 67h2v1h-2zM15 18h1v1h-1zM19 18h1v1h-1zM20 66h1v1h-1zM21 3h1v1h-1zM21 18h1v1h-1zM23 66h1v1h-1zM26 66h1v1h-1zM28 66h1v1h-1zM28 18h3v1h-3zM28 3h4v1h-4zM30 66h1v1h-1zM31 67h1v1h-1zM32 66h1v1h-1zM33 18h1v1h-1zM35 66h2v1h-2zM35 17h4v1h-4zM38 66h1v1h-1zM40 17h1v1h-1zM41 66h1v1h-1zM42 17h1v1h-1zM43 18h5v1h-5zM44 67h1v1h-1zM46 67h1v1h-1zM46 3h2v1h-2zM48 17h3v1h-3zM50 67h1v1h-1zM52 17h1v1h-1zM54 17h1v1h-1zM56 67h1v1h-1zM56 3h2v1h-2zM56 18h6v1h-6zM60 66h1v1h-1zM61 3h1v1h-1zM63 17h1v1h-1zM65 17h4v1h-4zM67 66h1v1h-1z"/><path fill="#60ff9f" d="M0 67h8v1h-8zM5 3h1v1h-1zM7 17h3v1h-3zM10 67h2v1h-2zM12 17h1v1h-1zM13 3h2v1h-2zM14 67h6v1h-6zM16 18h2v1h-2zM18 3h2v1h-2zM21 67h2v1h-2zM22 17h6v1h-6zM24 67h2v1h-2zM27 67h1v1h-1zM29 67h1v1h-1zM32 18h1v1h-1zM33 67h2v1h-2zM34 17h1v1h-1zM37 67h1v1h-1zM39 17h1v1h-1zM39 67h2v1h-2zM42 67h2v1h-2zM44 3h1v1h-1zM45 67h1v1h-1zM46 68h1v1h-1zM47 67h3v1h-3zM51 17h1v1h-1zM51 67h5v1h-5zM57 67h3v1h-3zM61 67h6v1h-6zM62 17h1v1h-1zM64 17h1v1h-1zM68 67h1v1h-1z"/><path fill="#70ff8f" d="M1 17h1v1h-1zM1 3h4v1h-4zM3 17h1v1h-1zM6 17h1v1h-1zM8 67h2v1h-2zM10 16h1v1h-1zM11 17h1v1h-1zM13 17h2v1h-2zM15 3h2v1h-2zM18 17h3v1h-3zM20 67h1v1h-1zM23 67h1v1h-1zM26 67h1v1h-1zM28 67h1v1h-1zM29 17h1v1h-1zM30 67h1v1h-1zM31 17h1v1h-1zM31 68h1v1h-1zM32 3h1v1h-1zM32 67h1v1h-1zM33 17h1v1h-1zM33 68h1v1h-1zM35 67h2v1h-2zM38 67h1v1h-1zM41 17h1v1h-1zM41 67h1v1h-1zM43 3h1v1h-1zM44 68h1v1h-1zM45 3h1v1h-1zM50 68h1v1h-1zM53 17h1v1h-1zM55 17h4v1h-4zM56 68h1v1h-1zM58 3h3v1h-3zM60 67h1v1h-1zM61 17h1v1h-1zM61 68h1v1h-1zM66 68h1v1h-1zM67 67h1v1h-1z"/><path fill="#80ff80" d="M0 17h1v1h-1zM0 68h31v1h-31zM2 17h1v1h-1zM4 17h2v1h-2zM7 16h1v1h-1zM9 16h1v1h-1zM15 17h3v1h-3zM17 3h1v1h-1zM21 17h1v1h-1zM28 17h1v1h-1zM30 17h1v1h-1zM31 69h1v1h-1zM32 17h1v1h-1zM34 68h2v1h-2zM37 68h4v1h-4zM38 16h1v1h-1zM40 16h1v1h-1zM42 68h2v1h-2zM43 17h5v1h-5zM44 69h1v1h-1zM45 68h1v1h-1zM46 69h1v1h-1zM47 68h3v1h-3zM50 16h1v1h-1zM51 68h5v1h-5zM52 16h1v1h-1zM56 69h1v1h-1zM57 68h4v1h-4zM59 17h2v1h-2zM62 68h4v1h-4zM63 16h1v1h-1zM65 16h2v1h-2zM67 68h2v1h-2zM68 16h1v1h-1z"/><path fill="#8fff70" d="M0 69h8v1h-8zM8 16h1v1h-1zM10 69h10v1h-10zM12 16h1v1h-1zM21 69h5v1h-5zM22 16h4v1h-4zM27 16h1v1h-1zM27 69h3v1h-3zM32 68h1v1h-1zM33 69h2v1h-2zM36 68h1v1h-1zM37 16h1v1h-1zM37 69h4v1h-4zM41 68h1v1h-1zM42 16h1v1h-1zM48 16h2v1h-2zM50 69h6v1h-6zM57 69h3v1h-3zM61 69h1v1h-1zM62 16h1v1h-1zM66 69h1v1h-1zM67 16h1v1h-1zM68 69h1v1h-1z"/><path fill="#9fff60" d="M1 16h1v1h-1zM6 16h1v1h-1zM7 15h1v1h-1zM8 69h2v1h-2zM9 4h2v1h-2zM9 15h2v1h-2zM11 16h1v1h-1zM13 16h2v1h-2zM16 70h1v1h-1zM18 16h3v1h-3zM20 69h1v1h-1zM22 4h1v1h-1zM26 16h1v1h-1zM26 69h1v1h-1zM30 69h1v1h-1zM31 16h1v1h-1zM31 70h1v1h-1zM32 69h1v1h-1zM33 70h1v1h-1zM33 16h4v1h-4zM34 15h5v1h-5zM35 69h2v1h-2zM38 4h1v1h-1zM39 16h1v1h-1zM40 4h1v1h-1zM40 15h1v1h-1zM41 16h1v1h-1zM41 69h3v1h-3zM44 70h1v1h-1zM45 69h1v1h-1zM46 70h1v1h-1zM47 69h3v1h-3zM50 15h1v1h-1zM50 70h2v1h-2zM51 16h1v1h-1zM52 4h1v1h-1zM52 15h1v1h-1zM53 70h1v1h-1zM54 16h1v1h-1zM56 70h1v1h-1zM60 69h1v1h-1zM61 16h1v1h-1zM62 69h4v1h-4zM64 16h1v1h-1zM66 4h1v1h-1zM66 15h1v1h-1zM67 69h1v1h-1zM68 15h1v1h-1z"/><path fill="#afff50" d="M0 70h16v1h-16zM1 15h1v1h-1zM3 16h3v1h-3zM6 15h1v1h-1zM7 4h2v1h-2zM8 15h1v1h-1zM11 4h2v1h-2zM12 15h1v1h-1zM17 70h14v1h-14zM20 4h1v1h-1zM20 15h1v1h-1zM22 15h6v1h-6zM23 4h5v1h-5zM29 16h2v1h-2zM31 15h1v1h-1zM33 15h1v1h-1zM34 4h4v1h-4zM34 70h7v1h-7zM39 4h1v1h-1zM39 15h1v1h-1zM42 4h1v1h-1zM42 15h1v1h-1zM42 70h2v1h-2zM45 70h1v1h-1zM47 70h3v1h-3zM48 15h2v1h-2zM48 4h3v1h-3zM51 15h1v1h-1zM52 70h1v1h-1zM53 16h1v1h-1zM54 4h1v1h-1zM54 15h1v1h-1zM54 70h2v1h-2zM55 16h1v1h-1zM57 70h12v1h-12zM62 4h2v1h-2zM62 15h4v1h-4zM65 4h1v1h-1zM67 15h1v1h-1zM67 4h2v1h-2z"/><path fill="#bfff40" d="M0 71h3v1h-3zM1 4h1v1h-1zM3 15h3v1h-3zM4 71h5v1h-5zM6 4h1v1h-1zM10 14h1v1h-1zM10 71h16v1h-16zM11 15h1v1h-1zM13 15h2v1h-2zM15 16h2v1h-2zM18 15h2v1h-2zM21 4h1v1h-1zM21 16h1v1h-1zM27 71h5v1h-5zM28 16h1v1h-1zM28 15h3v1h-3zM32 70h1v1h-1zM33 4h1v1h-1zM33 71h2v1h-2zM40 71h1v1h-1zM41 4h1v1h-1zM41 15h1v1h-1zM41 70h1v1h-1zM43 16h5v1h-5zM44 71h1v1h-1zM46 71h4v1h-4zM51 4h1v1h-1zM52 14h1v1h-1zM53 15h1v1h-1zM55 4h1v1h-1zM55 15h1v1h-1zM56 71h1v1h-1zM56 16h5v1h-5zM60 15h2v1h-2zM61 71h1v1h-1zM64 4h1v1h-1zM66 71h1v1h-1zM68 71h1v1h-1z"/><path fill="#cfff30" d="M0 16h1v1h-1zM2 15h1v2h-1zM3 71h1v1h-1zM4 72h1v1h-1zM9 71h1v1h-1zM13 4h2v1h-2zM15 15h2v1h-2zM15 72h4v1h-4zM21 15h1v1h-1zM26 71h1v1h-1zM29 4h1v1h-1zM32 15h1v2h-1zM32 71h1v1h-1zM33 72h1v1h-1zM35 71h5v1h-5zM40 14h1v1h-1zM40 72h1v1h-1zM41 71h3v1h-3zM42 72h1v1h-1zM43 15h5v1h-5zM44 4h1v1h-1zM44 72h1v1h-1zM45 71h1v1h-1zM46 72h1v1h-1zM50 14h1v1h-1zM50 71h6v1h-6zM53 4h1v1h-1zM56 72h1v1h-1zM56 15h3v1h-3zM57 71h4v1h-4zM62 71h4v1h-4zM66 14h1v1h-1zM67 71h1v1h-1zM68 14h1v1h-1z"/><path fill="#dfff20" d="M0 15h1v1h-1zM0 72h4v1h-4zM5 72h10v1h-10zM7 14h1v1h-1zM9 14h1v1h-1zM10 5h1v1h-1zM12 14h1v1h-1zM15 4h1v1h-1zM17 15h1v2h-1zM18 4h2v1h-2zM19 72h13v1h-13zM22 14h4v1h-4zM27 14h1v1h-1zM28 4h1v1h-1zM30 4h2v1h-2zM34 72h6v1h-6zM37 14h2v1h-2zM40 5h1v1h-1zM42 14h1v1h-1zM43 4h1v1h-1zM43 72h1v1h-1zM45 72h1v1h-1zM46 73h1v1h-1zM47 72h8v1h-8zM48 14h2v1h-2zM52 5h1v1h-1zM54 14h1v1h-1zM56 4h1v1h-1zM56 73h1v1h-1zM57 72h3v1h-3zM59 15h1v1h-1zM61 72h1v1h-1zM62 14h4v1h-4zM65 72h4v1h-4zM66 5h1v1h-1zM67 14h1v1h-1zM68 5h1v1h-1z"/><path fill="#efff10" d="M0 73h36v1h-36zM3 4h3v1h-3zM6 14h1v1h-1zM7 5h1v1h-1zM8 14h1v1h-1zM9 5h1v1h-1zM10 13h1v1h-1zM11 14h1v1h-1zM13 14h1v1h-1zM16 4h1v1h-1zM18 14h1v1h-1zM20 14h1v1h-1zM22 5h2v1h-2zM26 14h1v1h-1zM27 5h1v1h-1zM32 4h1v1h-1zM32 72h1v1h-1zM33 14h4v1h-4zM36 5h3v1h-3zM37 73h9v1h-9zM39 14h1v1h-1zM41 14h1v1h-1zM41 72h1v1h-1zM44 14h1v1h-1zM45 4h3v1h-3zM46 74h1v1h-1zM46 14h2v1h-2zM47 73h9v1h-9zM48 5h3v1h-3zM51 14h1v1h-1zM53 14h1v1h-1zM55 14h1v1h-1zM55 72h1v1h-1zM56 74h1v1h-1zM57 4h2v1h-2zM57 73h12v1h-12zM60 72h1v1h-1zM61 4h1v1h-1zM62 72h3v1h-3zM66 13h1v1h-1zM67 5h1v1h-1z"/><path fill="#ffff00" d="M0 74h46v1h-46zM1 14h1v1h-1zM3 14h3v1h-3zM7 13h1v1h-1zM8 5h1v1h-1zM12 5h1v1h-1zM14 14h1v1h-1zM16 75h1v1h-1zM17 4h1v1h-1zM18 75h1v1h-1zM20 5h1v1h-1zM22 13h1v1h-1zM24 5h2v1h-2zM28 14h4v1h-4zM34 5h2v1h-2zM36 73h1v1h-1zM37 13h2v1h-2zM39 5h1v1h-1zM40 13h1v1h-1zM42 5h1v1h-1zM43 14h1v1h-1zM45 14h1v1h-1zM46 75h1v1h-1zM47 74h9v1h-9zM48 13h1v1h-1zM50 13h1v1h-1zM51 5h1v1h-1zM52 13h1v1h-1zM53 75h1v1h-1zM54 5h1v1h-1zM56 75h1v1h-1zM56 14h3v1h-3zM57 74h5v1h-5zM60 4h1v1h-1zM60 14h2v1h-2zM62 5h4v1h-4zM63 13h1v1h-1zM64 74h3v1h-3zM65 13h1v1h-1zM67 13h2v1h-2zM68 74h1v1h-1z"/><path fill="#ffef00" d="M0 4h1v1h-1zM0 14h1v1h-1zM8 13h2v1h-2zM10 75h6v1h-6zM15 14h2v1h-2zM17 75h1v1h-1zM19 14h1v1h-1zM19 75h27v1h-27zM20 13h1v1h-1zM21 14h1v1h-1zM23 13h5v1h-5zM26 5h1v1h-1zM33 13h4v1h-4zM38 6h1v1h-1zM40 6h1v1h-1zM47 75h6v1h-6zM54 13h1v1h-1zM54 75h2v1h-2zM57 75h5v1h-5zM59 4h1v1h-1zM62 13h1v1h-1zM62 74h2v1h-2zM66 6h1v1h-1zM66 75h1v1h-1zM67 74h1v1h-1zM68 6h1v1h-1z"/><path fill="#ffdf00" d="M0 75h10v1h-10zM2 4h1v1h-1zM2 14h1v1h-1zM6 5h1v1h-1zM10 6h1v1h-1zM10 76h59v1h-59zM11 5h1v1h-1zM11 13h2v1h-2zM13 5h2v1h-2zM17 14h1v1h-1zM32 14h1v1h-1zM33 5h1v1h-1zM39 13h1v1h-1zM41 5h1v1h-1zM41 13h2v1h-2zM44 13h1v1h-1zM44 77h1v1h-1zM46 13h1v1h-1zM48 6h3v1h-3zM49 13h1v1h-1zM51 13h1v1h-1zM52 6h1v1h-1zM53 5h1v1h-1zM53 13h1v1h-1zM55 5h1v1h-1zM55 13h1v1h-1zM56 77h1v1h-1zM59 14h1v1h-1zM62 75h4v1h-4zM64 13h1v1h-1zM65 6h1v1h-1zM66 77h1v1h-1zM67 75h2v1h-2z"/><path fill="#ffcf00" d="M0 76h10v1h-10zM1 5h1v1h-1zM1 13h1v1h-1zM4 13h1v1h-1zM6 13h1v1h-1zM7 6h1v1h-1zM9 6h1v1h-1zM10 12h1v1h-1zM10 77h10v1h-10zM18 5h2v1h-2zM18 13h2v1h-2zM20 12h1v1h-1zM21 13h1v1h-1zM21 77h6v1h-6zM22 6h6v1h-6zM28 77h1v1h-1zM28 13h4v1h-4zM30 77h2v1h-2zM31 5h1v1h-1zM33 77h3v1h-3zM34 6h4v1h-4zM37 77h3v1h-3zM38 7h1v1h-1zM38 12h1v1h-1zM40 12h1v1h-1zM41 77h1v1h-1zM42 6h1v1h-1zM43 13h1v1h-1zM43 5h3v1h-3zM45 13h1v1h-1zM46 77h2v1h-2zM47 13h1v1h-1zM50 12h1v1h-1zM50 77h6v1h-6zM52 12h1v1h-1zM54 6h1v1h-1zM59 77h3v1h-3zM60 13h2v1h-2zM61 5h1v1h-1zM62 6h2v1h-2zM64 77h2v1h-2zM65 12h4v1h-4zM66 7h1v1h-1zM67 6h1v1h-1zM67 77h1v1h-1zM68 7h1v1h-1z"/><path fill="#ffbf00" d="M0 13h1v1h-1zM0 77h1v2h-1zM2 13h2v1h-2zM2 77h8v1h-8zM3 5h3v1h-3zM5 13h1v1h-1zM6 12h4v1h-4zM7 7h3v1h-3zM7 10h3v1h-3zM7 11h4v1h-4zM8 6h1v1h-1zM10 78h1v1h-1zM11 12h2v1h-2zM11 6h4v1h-4zM13 13h3v1h-3zM15 5h1v1h-1zM18 12h2v1h-2zM20 6h1v3h-1zM20 10h1v2h-1zM20 77h1v1h-1zM21 5h1v1h-1zM22 7h6v2h-6zM22 10h6v3h-6zM27 77h1v1h-1zM28 78h1v1h-1zM28 5h3v1h-3zM29 77h1v1h-1zM32 13h1v1h-1zM32 77h1v1h-1zM33 6h1v1h-1zM33 78h1v1h-1zM33 12h5v1h-5zM34 7h4v1h-4zM34 11h7v1h-7zM36 77h1v1h-1zM37 78h1v1h-1zM38 8h2v1h-2zM39 6h1v1h-1zM39 12h1v1h-1zM40 10h1v1h-1zM40 77h1v1h-1zM41 6h1v1h-1zM41 12h2v1h-2zM42 7h1v1h-1zM42 77h2v1h-2zM44 78h1v1h-1zM45 77h1v1h-1zM46 5h2v1h-2zM46 78h2v1h-2zM48 10h1v1h-1zM48 8h2v1h-2zM48 12h2v1h-2zM48 77h2v1h-2zM48 7h3v1h-3zM48 11h3v1h-3zM50 10h1v1h-1zM50 78h2v1h-2zM51 6h1v1h-1zM51 12h1v1h-1zM52 7h1v1h-1zM52 11h1v1h-1zM53 78h1v1h-1zM54 7h1v1h-1zM54 12h1v1h-1zM55 6h1v1h-1zM56 78h1v1h-1zM56 5h3v1h-3zM56 13h3v1h-3zM57 77h2v1h-2zM61 78h1v1h-1zM62 77h2v1h-2zM62 12h3v1h-3zM64 6h1v1h-1zM66 78h2v1h-2zM66 8h3v1h-3zM66 10h3v2h-3zM68 77h1v1h-1z"/><path fill="#ffaf00" d="M0 79h1v1h-1zM0 12h2v1h-2zM1 6h1v3h-1zM1 10h1v2h-1zM1 77h1v1h-1zM2 78h1v1h-1zM3 12h3v1h-3zM3 6h4v1h-4zM3 8h13v1h-13zM4 10h1v2h-1zM4 78h3v1h-3zM6 7h1v1h-1zM6 10h1v2h-1zM6 9h4v1h-4zM8 78h1v1h-1zM10 79h1v1h-1zM10 7h3v1h-3zM10 10h3v1h-3zM11 11h2v1h-2zM11 78h17v1h-17zM13 9h3v1h-3zM13 12h3v1h-3zM15 6h1v2h-1zM16 5h2v1h-2zM16 13h2v1h-2zM18 6h2v3h-2zM18 10h2v2h-2zM21 6h1v1h-1zM21 12h1v1h-1zM22 9h7v1h-7zM28 79h1v1h-1zM28 8h2v1h-2zM28 10h2v1h-2zM28 6h4v1h-4zM29 7h1v1h-1zM29 11h1v1h-1zM29 12h3v1h-3zM29 78h4v1h-4zM32 5h1v1h-1zM33 11h1v1h-1zM33 79h1v1h-1zM34 78h3v1h-3zM34 8h4v1h-4zM34 10h6v1h-6zM37 79h1v1h-1zM38 78h6v1h-6zM40 7h1v2h-1zM41 11h2v1h-2zM42 8h1v1h-1zM42 10h1v1h-1zM43 6h5v1h-5zM43 12h5v1h-5zM44 79h1v1h-1zM45 78h1v1h-1zM46 79h2v1h-2zM48 78h2v1h-2zM49 10h1v1h-1zM50 79h2v1h-2zM50 8h3v1h-3zM51 7h1v1h-1zM51 11h1v1h-1zM52 78h1v1h-1zM52 10h3v1h-3zM53 6h1v1h-1zM53 12h1v1h-1zM53 79h1v1h-1zM53 11h3v1h-3zM54 8h1v1h-1zM54 78h2v1h-2zM55 12h4v1h-4zM56 79h1v1h-1zM56 6h3v1h-3zM57 78h4v1h-4zM59 13h1v1h-1zM60 5h1v1h-1zM61 6h1v1h-1zM61 79h1v1h-1zM61 7h5v1h-5zM62 8h4v1h-4zM62 10h4v2h-4zM62 78h4v1h-4zM66 79h2v1h-2zM67 7h1v1h-1zM68 78h1v1h-1z"/><path fill="#ff9f00" d="M0 5h1v4h-1zM0 10h1v2h-1zM0 80h1v1h-1zM0 9h2v1h-2zM1 78h1v1h-1zM2 5h1v1h-1zM2 8h1v1h-1zM2 12h1v1h-1zM2 79h1v2h-1zM2 10h2v2h-2zM3 78h1v1h-1zM3 7h3v1h-3zM3 9h3v1h-3zM4 80h3v1h-3zM4 79h6v1h-6zM5 10h1v2h-1zM7 78h1v1h-1zM8 80h1v1h-1zM9 78h1v1h-1zM10 80h1v1h-1zM10 9h3v1h-3zM11 79h4v1h-4zM13 7h2v1h-2zM13 10h4v2h-4zM16 6h1v2h-1zM16 79h1v1h-1zM16 8h2v1h-2zM16 12h2v1h-2zM16 9h6v1h-6zM18 79h10v1h-10zM21 7h1v2h-1zM21 10h1v2h-1zM28 7h1v1h-1zM28 11h1v2h-1zM28 80h1v1h-1zM29 79h4v1h-4zM29 9h14v1h-14zM30 11h3v1h-3zM30 7h4v2h-4zM30 10h4v1h-4zM32 6h1v1h-1zM32 12h1v1h-1zM33 80h1v1h-1zM34 79h3v1h-3zM37 80h1v1h-1zM38 79h6v1h-6zM39 7h1v1h-1zM41 7h1v2h-1zM41 10h1v1h-1zM43 10h2v1h-2zM43 7h5v2h-5zM43 11h5v1h-5zM44 80h1v1h-1zM45 79h1v1h-1zM46 10h2v1h-2zM46 80h2v1h-2zM48 79h2v1h-2zM48 9h9v1h-9zM50 80h2v1h-2zM51 10h1v1h-1zM52 79h1v1h-1zM53 7h1v2h-1zM53 80h1v1h-1zM54 79h2v1h-2zM55 7h4v1h-4zM55 8h7v1h-7zM55 10h7v1h-7zM56 80h1v1h-1zM56 11h3v1h-3zM57 79h4v1h-4zM59 5h1v1h-1zM59 6h2v1h-2zM59 12h3v1h-3zM59 9h10v1h-10zM60 7h1v1h-1zM60 11h2v1h-2zM61 80h1v1h-1zM62 79h4v1h-4zM66 80h2v1h-2zM68 79h1v1h-1z"/><path fill="#ff8f00" d="M0 81h1v1h-1zM1 79h1v1h-1zM2 6h1v2h-1zM2 9h1v1h-1zM2 81h1v1h-1zM3 79h1v2h-1zM4 81h3v1h-3zM7 80h1v1h-1zM8 81h1v1h-1zM9 80h1v1h-1zM10 81h1v1h-1zM11 80h4v1h-4zM15 79h1v1h-1zM16 80h1v1h-1zM17 6h1v2h-1zM17 10h1v2h-1zM17 79h1v1h-1zM18 80h10v1h-10zM28 81h1v1h-1zM29 80h4v1h-4zM33 81h1v1h-1zM34 80h3v1h-3zM37 81h1v1h-1zM38 80h6v1h-6zM43 9h5v1h-5zM44 81h1v2h-1zM45 10h1v1h-1zM45 80h1v1h-1zM46 81h2v1h-2zM48 80h2v1h-2zM50 81h2v1h-2zM52 80h1v1h-1zM53 81h1v1h-1zM54 80h2v1h-2zM56 81h1v2h-1zM57 9h2v1h-2zM57 80h4v1h-4zM59 7h1v1h-1zM59 11h1v1h-1zM61 81h1v1h-1zM62 80h4v1h-4zM66 82h1v1h-1zM66 81h2v1h-2zM68 80h1v1h-1z"/><path fill="#ff8000" d="M0 82h1v2h-1zM1 80h1v2h-1zM2 82h1v2h-1zM3 81h1v1h-1zM4 83h1v1h-1zM4 82h11v1h-11zM7 81h1v1h-1zM9 81h1v1h-1zM10 83h1v1h-1zM11 81h17v1h-17zM15 80h1v1h-1zM16 82h1v1h-1zM17 80h1v1h-1zM18 82h2v1h-2zM21 82h6v1h-6zM28 82h1v1h-1zM29 81h4v1h-4zM30 82h2v1h-2zM33 82h3v1h-3zM34 81h3v1h-3zM37 82h3v1h-3zM38 81h6v1h-6zM41 82h1v1h-1zM44 83h1v1h-1zM45 81h1v1h-1zM46 82h2v1h-2zM48 81h2v1h-2zM50 82h6v1h-6zM52 81h1v1h-1zM54 81h2v1h-2zM56 83h1v1h-1zM57 81h4v1h-4zM59 82h3v1h-3zM62 81h4v1h-4zM64 82h2v1h-2zM66 83h1v1h-1zM67 82h1v1h-1zM68 81h1v1h-1z"/><path fill="#ff7000" d="M0 84h1v2h-1zM1 82h1v1h-1zM2 84h1v1h-1zM3 82h1v2h-1zM4 84h1v1h-1zM5 83h5v1h-5zM10 84h1v2h-1zM11 83h4v1h-4zM15 82h1v1h-1zM16 83h4v1h-4zM17 82h1v1h-1zM18 84h1v1h-1zM20 82h1v1h-1zM21 83h6v1h-6zM27 82h1v1h-1zM28 83h1v2h-1zM29 82h1v1h-1zM30 83h2v1h-2zM32 82h1v1h-1zM33 84h1v1h-1zM33 83h3v1h-3zM36 82h1v1h-1zM37 84h1v1h-1zM37 83h3v1h-3zM40 82h1v1h-1zM41 83h1v1h-1zM42 82h2v1h-2zM44 84h1v1h-1zM45 82h1v1h-1zM46 83h2v2h-2zM48 82h2v1h-2zM50 84h2v1h-2zM50 83h6v1h-6zM53 84h1v1h-1zM56 84h1v1h-1zM57 82h2v1h-2zM59 83h3v1h-3zM61 84h1v1h-1zM62 82h2v1h-2zM64 83h2v1h-2zM66 84h2v1h-2zM67 83h1v1h-1zM68 82h1v1h-1z"/><path fill="#ff6000" d="M0 86h1v2h-1zM1 83h1v2h-1zM2 85h1v2h-1zM3 84h1v1h-1zM4 85h1v1h-1zM5 84h5v1h-5zM8 85h1v1h-1zM10 86h1v1h-1zM11 85h3v1h-3zM11 84h7v1h-7zM15 83h1v1h-1zM18 85h2v1h-2zM19 84h9v1h-9zM20 83h1v1h-1zM21 85h6v1h-6zM24 86h1v1h-1zM27 83h1v1h-1zM28 85h1v1h-1zM29 83h1v1h-1zM29 84h4v1h-4zM30 85h2v1h-2zM32 83h1v1h-1zM33 85h3v1h-3zM34 84h3v1h-3zM36 83h1v1h-1zM37 86h1v1h-1zM37 85h3v1h-3zM38 84h6v1h-6zM40 83h1v1h-1zM41 85h1v1h-1zM42 83h2v1h-2zM43 85h14v1h-14zM44 86h1v1h-1zM45 83h1v2h-1zM46 86h2v1h-2zM48 83h2v2h-2zM50 86h1v1h-1zM52 84h1v1h-1zM53 86h1v1h-1zM54 84h2v1h-2zM56 86h1v1h-1zM57 83h2v1h-2zM57 84h4v1h-4zM58 85h5v1h-5zM61 86h1v1h-1zM62 83h2v1h-2zM62 84h4v1h-4zM64 85h4v1h-4zM66 86h2v1h-2zM68 83h1v2h-1z"/><path fill="#ff5000" d="M0 88h1v2h-1zM1 85h1v1h-1zM2 87h1v2h-1zM3 85h1v1h-1zM4 86h3v1h-3zM5 85h3v1h-3zM8 86h2v1h-2zM9 85h1v1h-1zM10 87h1v2h-1zM11 86h4v1h-4zM14 85h4v1h-4zM16 86h8v1h-8zM20 85h1v1h-1zM24 87h1v2h-1zM25 86h12v1h-12zM27 85h1v1h-1zM29 85h1v1h-1zM32 85h1v1h-1zM36 85h1v1h-1zM37 87h1v2h-1zM38 86h6v1h-6zM40 85h1v1h-1zM41 87h1v1h-1zM42 85h1v1h-1zM45 86h1v1h-1zM48 86h2v1h-2zM51 86h2v1h-2zM54 86h2v1h-2zM57 85h1v1h-1zM57 86h4v1h-4zM62 86h4v1h-4zM63 85h1v1h-1zM67 87h1v2h-1zM68 85h1v2h-1z"/><path fill="#ff4000" d="M0 90h1v2h-1zM1 86h1v2h-1zM2 89h1v2h-1zM3 86h1v1h-1zM3 87h7v1h-7zM4 88h3v1h-3zM7 86h1v1h-1zM8 88h2v1h-2zM10 89h1v2h-1zM11 88h4v1h-4zM11 87h13v1h-13zM15 86h1v1h-1zM16 88h4v1h-4zM21 88h2v1h-2zM24 89h1v2h-1zM25 88h2v1h-2zM25 87h12v1h-12zM28 88h4v1h-4zM33 88h3v1h-3zM37 89h1v2h-1zM38 87h3v1h-3zM38 88h4v1h-4zM41 89h1v1h-1zM42 87h25v1h-25zM43 88h11v1h-11zM55 88h1v1h-1zM58 88h7v1h-7zM66 88h1v1h-1zM67 89h1v2h-1zM68 87h1v1h-1z"/><path fill="#ff3000" d="M0 92h1v1h-1zM1 88h1v1h-1zM2 91h1v1h-1zM3 88h1v1h-1zM3 89h7v1h-7zM4 90h1v1h-1zM6 90h1v1h-1zM7 88h1v1h-1zM8 90h1v1h-1zM10 91h1v2h-1zM11 90h4v1h-4zM11 89h13v1h-13zM15 88h1v1h-1zM20 88h1v1h-1zM21 90h2v1h-2zM23 88h1v1h-1zM24 91h1v1h-1zM25 90h2v1h-2zM25 89h12v1h-12zM27 88h1v1h-1zM28 90h4v1h-4zM32 88h1v1h-1zM33 90h3v1h-3zM36 88h1v1h-1zM37 91h1v1h-1zM38 89h3v1h-3zM38 90h4v1h-4zM42 88h1v1h-1zM42 89h25v1h-25zM43 90h11v1h-11zM54 88h1v1h-1zM55 90h1v1h-1zM56 88h2v1h-2zM58 90h7v1h-7zM65 88h1v1h-1zM66 90h1v1h-1zM67 91h1v1h-1zM68 88h1v2h-1z"/><path fill="#ff2000" d="M0 93h1v1h-1zM1 89h1v2h-1zM2 92h1v1h-1zM3 90h1v1h-1zM4 91h3v1h-3zM5 90h1v1h-1zM7 90h1v1h-1zM8 91h2v1h-2zM9 90h1v1h-1zM10 93h1v1h-1zM11 91h4v1h-4zM15 90h6v1h-6zM17 91h3v1h-3zM21 91h2v1h-2zM23 90h1v1h-1zM24 92h1v1h-1zM25 91h2v1h-2zM27 90h1v1h-1zM28 91h4v1h-4zM32 90h1v1h-1zM33 91h3v1h-3zM36 90h1v1h-1zM37 92h1v1h-1zM38 91h4v1h-4zM41 92h1v1h-1zM42 90h1v1h-1zM43 91h11v1h-11zM54 90h1v1h-1zM55 91h1v1h-1zM56 90h2v1h-2zM58 91h7v1h-7zM65 90h1v1h-1zM66 91h1v1h-1zM67 92h1v1h-1zM68 90h1v1h-1z"/><path fill="#ff1000" d="M1 91h1v2h-1zM2 93h1v1h-1zM3 91h1v1h-1zM3 92h7v1h-7zM7 91h1v1h-1zM11 92h13v1h-13zM15 91h2v1h-2zM20 91h1v1h-1zM23 91h1v1h-1zM24 93h1v2h-1zM25 92h12v1h-12zM27 91h1v1h-1zM32 91h1v1h-1zM36 91h1v1h-1zM37 93h1v2h-1zM38 92h3v1h-3zM41 93h1v1h-1zM42 91h1v1h-1zM42 92h25v1h-25zM54 91h1v1h-1zM56 91h2v1h-2zM65 91h1v1h-1zM67 93h1v2h-1zM68 91h1v2h-1z"/><path fill="#ff0000" d="M1 93h1v1h-1zM3 93h7v1h-7zM4 94h1v1h-1zM6 94h1v1h-1zM11 94h4v1h-4zM11 93h13v1h-13zM16 94h4v1h-4zM21 94h2v1h-2zM25 94h2v1h-2zM25 93h12v1h-12zM28 94h4v1h-4zM33 94h3v1h-3zM38 93h3v1h-3zM38 94h4v1h-4zM42 93h25v1h-25zM43 94h11v1h-11zM55 94h1v1h-1zM58 94h7v1h-7zM66 94h1v1h-1zM68 93h1v1h-1z"/><path fill="#ef0000" d="M1 94h1v1h-1zM3 94h1v1h-1zM4 95h1v1h-1zM5 94h1v1h-1zM6 95h1v1h-1zM7 94h3v1h-3zM15 94h1v1h-1zM18 95h2v1h-2zM20 94h1v1h-1zM23 94h1v1h-1zM24 95h1v1h-1zM27 94h1v1h-1zM32 94h1v1h-1zM36 94h1v1h-1zM37 95h1v1h-1zM41 95h1v1h-1zM42 94h1v1h-1zM54 94h1v1h-1zM56 94h2v1h-2zM65 94h1v1h-1zM67 95h1v1h-1zM68 94h1v1h-1z"/><path fill="#df0000" d="M1 95h1v1h-1zM3 95h1v1h-1zM4 96h3v1h-3zM5 95h1v1h-1zM7 95h3v1h-3zM11 95h7v1h-7zM17 96h3v1h-3zM20 95h4v1h-4zM24 96h1v1h-1zM25 95h12v1h-12zM37 96h1v1h-1zM38 95h3v1h-3zM41 96h1v1h-1zM42 95h25v1h-25zM67 96h1v1h-1zM68 95h1v1h-1z"/><path fill="#cf0000" d="M1 96h1v1h-1zM3 96h1v1h-1zM7 96h3v1h-3zM11 96h3v1h-3zM15 96h2v1h-2zM20 96h4v1h-4zM25 96h12v1h-12zM38 96h3v1h-3zM42 96h25v1h-25zM68 96h1v1h-1z"/><path fill="#bf0000" d="M14 96h1v1h-1z"/></svg>
<polygon fill="#fff" points="159.2,346.0 164.6,346.0 168.4,349.8 168.4,355.2 164.6,359.0 159.2,359.0 155.4,355.2 155.4,349.8"/><polygon fill="#fff" points="181.8,346.0 187.2,346.0 191.0,349.8 191.0,355.2 187.2,359.0 181.8,359.0 178.0,355.2 178.0,349.8"/><polygon fill="#fff" points="272.2,346.0 277.6,346.0 281.4,349.8 281.4,355.2 277.6,359.0 272.2,359.0 268.4,355.2 268.4,349.8"/>
<g shape-rendering="crispEdges" stroke="#000" stroke-width="1" fill="none">
<rect x="155.5" y="68.5" width="792.0" height="307.0"/>
<path d="M263.5 375.5v-8M263.5 68.5v8"/>
<path d="M376.5 375.5v-8M376.5 68.5v8"/>
<path d="M489.5 375.5v-8M489.5 68.5v8"/>
<path d="M602.5 375.5v-8M602.5 68.5v8"/>
<path d="M715.5 375.5v-8M715.5 68.5v8"/>
<path d="M828.5 375.5v-8M828.5 68.5v8"/>
<path d="M941.5 375.5v-8M941.5 68.5v8"/>
<path d="M155.5 127.5h8M947.5 127.5h-8"/>
<path d="M155.5 188.5h8M947.5 188.5h-8"/>
<path d="M155.5 248.5h8M947.5 248.5h-8"/>
<path d="M155.5 309.5h8M947.5 309.5h-8"/>
<path d="M155.5 370.5h8M947.5 370.5h-8"/>
</g>
<g class="tk">
<text x="263.1" y="404.0" text-anchor="middle">10</text>
<text x="376.1" y="404.0" text-anchor="middle">20</text>
<text x="489.1" y="404.0" text-anchor="middle">30</text>
<text x="602.1" y="404.0" text-anchor="middle">40</text>
<text x="715.1" y="404.0" text-anchor="middle">50</text>
<text x="828.1" y="404.0" text-anchor="middle">60</text>
<text x="941.1" y="404.0" text-anchor="middle">70</text>
<text x="151" y="135.9" text-anchor="end">20</text>
<text x="151" y="196.5" text-anchor="end">40</text>
<text x="151" y="257.1" text-anchor="end">60</text>
<text x="151" y="317.7" text-anchor="end">80</text>
<text x="151" y="378.3" text-anchor="end">100</text>
</g>
<text class="lb" x="550" y="429.5" text-anchor="middle" style="letter-spacing:.9px">Record index</text>
<text class="lb" transform="translate(106,222.0) rotate(-90)" text-anchor="middle" style="letter-spacing:1px">P index</text>
<text class="lb" x="551" y="51.0" text-anchor="middle" style="letter-spacing:0.4px">T(K) : 06-Oct-2012 19:10:11 - 19:11:03</text>
<g shape-rendering="crispEdges">
<rect x="979.5" y="371.688" width="41.0" height="5.312" fill="#00008f"/>
<rect x="979.5" y="366.875" width="41.0" height="5.312" fill="#00009f"/>
<rect x="979.5" y="362.062" width="41.0" height="5.312" fill="#0000af"/>
<rect x="979.5" y="357.250" width="41.0" height="5.312" fill="#0000bf"/>
<rect x="979.5" y="352.438" width="41.0" height="5.312" fill="#0000cf"/>
<rect x="979.5" y="347.625" width="41.0" height="5.312" fill="#0000df"/>
<rect x="979.5" y="342.812" width="41.0" height="5.312" fill="#0000ef"/>
<rect x="979.5" y="338.000" width="41.0" height="5.312" fill="#0000ff"/>
<rect x="979.5" y="333.188" width="41.0" height="5.312" fill="#0010ff"/>
<rect x="979.5" y="328.375" width="41.0" height="5.312" fill="#0020ff"/>
<rect x="979.5" y="323.562" width="41.0" height="5.312" fill="#0030ff"/>
<rect x="979.5" y="318.750" width="41.0" height="5.312" fill="#0040ff"/>
<rect x="979.5" y="313.938" width="41.0" height="5.312" fill="#0050ff"/>
<rect x="979.5" y="309.125" width="41.0" height="5.312" fill="#0060ff"/>
<rect x="979.5" y="304.312" width="41.0" height="5.312" fill="#0070ff"/>
<rect x="979.5" y="299.500" width="41.0" height="5.312" fill="#0080ff"/>
<rect x="979.5" y="294.688" width="41.0" height="5.312" fill="#008fff"/>
<rect x="979.5" y="289.875" width="41.0" height="5.312" fill="#009fff"/>
<rect x="979.5" y="285.062" width="41.0" height="5.312" fill="#00afff"/>
<rect x="979.5" y="280.250" width="41.0" height="5.312" fill="#00bfff"/>
<rect x="979.5" y="275.438" width="41.0" height="5.312" fill="#00cfff"/>
<rect x="979.5" y="270.625" width="41.0" height="5.312" fill="#00dfff"/>
<rect x="979.5" y="265.812" width="41.0" height="5.312" fill="#00efff"/>
<rect x="979.5" y="261.000" width="41.0" height="5.312" fill="#00ffff"/>
<rect x="979.5" y="256.188" width="41.0" height="5.312" fill="#10ffef"/>
<rect x="979.5" y="251.375" width="41.0" height="5.312" fill="#20ffdf"/>
<rect x="979.5" y="246.562" width="41.0" height="5.312" fill="#30ffcf"/>
<rect x="979.5" y="241.750" width="41.0" height="5.312" fill="#40ffbf"/>
<rect x="979.5" y="236.938" width="41.0" height="5.312" fill="#50ffaf"/>
<rect x="979.5" y="232.125" width="41.0" height="5.312" fill="#60ff9f"/>
<rect x="979.5" y="227.312" width="41.0" height="5.312" fill="#70ff8f"/>
<rect x="979.5" y="222.500" width="41.0" height="5.312" fill="#80ff80"/>
<rect x="979.5" y="217.688" width="41.0" height="5.312" fill="#8fff70"/>
<rect x="979.5" y="212.875" width="41.0" height="5.312" fill="#9fff60"/>
<rect x="979.5" y="208.062" width="41.0" height="5.312" fill="#afff50"/>
<rect x="979.5" y="203.250" width="41.0" height="5.312" fill="#bfff40"/>
<rect x="979.5" y="198.438" width="41.0" height="5.312" fill="#cfff30"/>
<rect x="979.5" y="193.625" width="41.0" height="5.312" fill="#dfff20"/>
<rect x="979.5" y="188.812" width="41.0" height="5.312" fill="#efff10"/>
<rect x="979.5" y="184.000" width="41.0" height="5.312" fill="#ffff00"/>
<rect x="979.5" y="179.188" width="41.0" height="5.312" fill="#ffef00"/>
<rect x="979.5" y="174.375" width="41.0" height="5.312" fill="#ffdf00"/>
<rect x="979.5" y="169.562" width="41.0" height="5.312" fill="#ffcf00"/>
<rect x="979.5" y="164.750" width="41.0" height="5.312" fill="#ffbf00"/>
<rect x="979.5" y="159.938" width="41.0" height="5.312" fill="#ffaf00"/>
<rect x="979.5" y="155.125" width="41.0" height="5.312" fill="#ff9f00"/>
<rect x="979.5" y="150.312" width="41.0" height="5.312" fill="#ff8f00"/>
<rect x="979.5" y="145.500" width="41.0" height="5.312" fill="#ff8000"/>
<rect x="979.5" y="140.688" width="41.0" height="5.312" fill="#ff7000"/>
<rect x="979.5" y="135.875" width="41.0" height="5.312" fill="#ff6000"/>
<rect x="979.5" y="131.062" width="41.0" height="5.312" fill="#ff5000"/>
<rect x="979.5" y="126.250" width="41.0" height="5.312" fill="#ff4000"/>
<rect x="979.5" y="121.438" width="41.0" height="5.312" fill="#ff3000"/>
<rect x="979.5" y="116.625" width="41.0" height="5.312" fill="#ff2000"/>
<rect x="979.5" y="111.812" width="41.0" height="5.312" fill="#ff1000"/>
<rect x="979.5" y="107.000" width="41.0" height="5.312" fill="#ff0000"/>
<rect x="979.5" y="102.188" width="41.0" height="5.312" fill="#ef0000"/>
<rect x="979.5" y="97.375" width="41.0" height="5.312" fill="#df0000"/>
<rect x="979.5" y="92.562" width="41.0" height="5.312" fill="#cf0000"/>
<rect x="979.5" y="87.750" width="41.0" height="5.312" fill="#bf0000"/>
<rect x="979.5" y="82.938" width="41.0" height="5.312" fill="#af0000"/>
<rect x="979.5" y="78.125" width="41.0" height="5.312" fill="#9f0000"/>
<rect x="979.5" y="73.312" width="41.0" height="5.312" fill="#8f0000"/>
<rect x="979.5" y="68.500" width="41.0" height="5.312" fill="#800000"/>
<rect x="979.5" y="68.5" width="41.0" height="308.0" fill="none" stroke="#000"/>
<path stroke="#000" d="M979.5 81.5h4M1020.5 81.5h-4"/>
<path stroke="#000" d="M979.5 134.5h4M1020.5 134.5h-4"/>
<path stroke="#000" d="M979.5 188.5h4M1020.5 188.5h-4"/>
<path stroke="#000" d="M979.5 242.5h4M1020.5 242.5h-4"/>
<path stroke="#000" d="M979.5 295.5h4M1020.5 295.5h-4"/>
<path stroke="#000" d="M979.5 349.5h4M1020.5 349.5h-4"/>
</g>
<g class="tk">
<text x="1025.5" y="89.8" style="letter-spacing:.6px">300</text>
<text x="1025.5" y="143.4" style="letter-spacing:.6px">280</text>
<text x="1025.5" y="197.0" style="letter-spacing:.6px">260</text>
<text x="1025.5" y="250.6" style="letter-spacing:.6px">240</text>
<text x="1025.5" y="304.2" style="letter-spacing:.6px">220</text>
<text x="1025.5" y="357.8" style="letter-spacing:.6px">200</text>
</g>

<svg x="156" y="494.5" width="791" height="307.0" viewBox="0 0.2225 70 100.82" preserveAspectRatio="none" shape-rendering="crispEdges"><path fill="#00008f" d="M0 95h1v2h-1zM0 34h10v1h-10zM0 1h70v33h-70zM0 97h70v4h-70zM1 0h1v1h-1zM1 35h1v1h-1zM2 95h1v2h-1zM3 0h1v1h-1zM3 35h7v3h-7zM6 0h4v1h-4zM10 95h1v2h-1zM11 34h1v1h-1zM11 0h14v1h-14zM13 34h57v1h-57zM22 74h1v1h-1zM24 74h1v5h-1zM26 0h11v1h-11zM38 0h15v1h-15zM52 75h1v3h-1zM54 74h1v1h-1zM54 76h1v4h-1zM54 0h2v1h-2zM54 75h2v1h-2zM57 0h2v1h-2zM58 74h1v4h-1zM60 0h1v1h-1zM62 0h8v1h-8zM69 35h1v62h-1z"/><path fill="#00009f" d="M0 35h1v1h-1zM0 73h1v1h-1zM0 80h1v3h-1zM0 36h3v1h-3zM0 74h3v2h-3zM0 77h3v3h-3zM0 76h11v1h-11zM1 37h1v3h-1zM2 35h1v1h-1zM2 73h1v1h-1zM2 80h1v4h-1zM4 73h1v1h-1zM4 80h1v3h-1zM4 79h5v1h-5zM4 74h7v2h-7zM4 77h7v2h-7zM6 73h1v1h-1zM6 80h1v3h-1zM6 38h4v2h-4zM8 40h2v1h-2zM8 73h3v1h-3zM10 34h1v1h-1zM10 79h1v1h-1zM10 35h59v1h-59zM11 36h1v1h-1zM12 34h1v1h-1zM12 74h10v1h-10zM12 75h12v4h-12zM12 79h22v1h-22zM13 36h56v1h-56zM18 80h5v2h-5zM20 73h1v1h-1zM22 73h1v1h-1zM23 74h1v1h-1zM24 73h1v1h-1zM24 80h10v2h-10zM25 78h20v1h-20zM25 75h27v3h-27zM26 73h6v1h-6zM26 74h12v1h-12zM33 73h3v1h-3zM37 73h1v1h-1zM37 79h1v3h-1zM39 74h15v1h-15zM40 80h3v2h-3zM40 79h5v1h-5zM42 73h1v1h-1zM44 80h1v2h-1zM46 79h3v3h-3zM46 78h8v1h-8zM48 73h1v1h-1zM50 79h1v4h-1zM52 79h2v1h-2zM52 73h3v1h-3zM52 80h5v2h-5zM53 75h1v3h-1zM55 79h2v1h-2zM55 74h3v1h-3zM55 76h3v2h-3zM55 78h10v1h-10zM56 75h2v1h-2zM58 73h1v1h-1zM58 79h3v3h-3zM59 74h2v1h-2zM59 75h10v3h-10zM62 73h1v1h-1zM62 80h1v2h-1zM62 79h3v1h-3zM62 74h7v1h-7zM64 80h1v2h-1zM66 79h2v3h-2zM66 78h3v1h-3zM67 73h1v1h-1z"/><path fill="#0000af" d="M0 37h1v2h-1zM0 83h1v6h-1zM1 40h1v1h-1zM1 73h1v1h-1zM1 80h1v2h-1zM2 37h1v1h-1zM2 84h1v3h-1zM3 73h1v3h-1zM3 77h1v3h-1zM3 38h3v2h-3zM4 71h1v2h-1zM4 83h1v2h-1zM5 80h1v3h-1zM6 71h1v1h-1zM6 83h1v1h-1zM6 72h5v1h-5zM7 73h1v1h-1zM7 80h4v2h-4zM8 82h1v1h-1zM9 79h1v1h-1zM10 36h1v1h-1zM10 82h1v2h-1zM11 74h1v5h-1zM11 38h7v2h-7zM11 37h58v1h-58zM12 36h1v1h-1zM12 81h2v1h-2zM12 72h4v1h-4zM12 80h6v1h-6zM12 73h8v1h-8zM15 81h3v1h-3zM16 82h7v1h-7zM17 72h8v1h-8zM18 83h2v1h-2zM20 38h49v1h-49zM21 73h1v1h-1zM23 39h1v1h-1zM23 73h1v1h-1zM23 80h1v1h-1zM24 82h10v1h-10zM25 73h1v2h-1zM26 39h2v1h-2zM26 72h6v1h-6zM29 39h17v1h-17zM32 73h1v1h-1zM33 72h3v1h-3zM34 80h2v2h-2zM34 79h3v1h-3zM36 40h1v1h-1zM36 73h1v1h-1zM37 82h1v1h-1zM37 72h7v1h-7zM38 74h1v1h-1zM38 79h2v3h-2zM38 73h4v1h-4zM40 82h3v1h-3zM43 80h1v2h-1zM43 73h5v1h-5zM44 82h1v1h-1zM45 72h1v1h-1zM45 78h1v4h-1zM46 82h3v1h-3zM47 72h3v1h-3zM48 40h1v1h-1zM48 39h8v1h-8zM49 79h1v3h-1zM49 73h3v1h-3zM50 83h1v1h-1zM51 79h1v3h-1zM51 72h5v1h-5zM52 82h5v1h-5zM55 73h3v1h-3zM57 79h1v3h-1zM57 39h3v1h-3zM57 72h3v1h-3zM58 82h3v1h-3zM59 73h3v1h-3zM61 74h1v1h-1zM61 79h1v3h-1zM62 82h1v1h-1zM62 39h7v1h-7zM62 72h7v1h-7zM63 80h1v2h-1zM63 73h4v1h-4zM64 82h1v1h-1zM65 78h1v4h-1zM67 82h1v1h-1zM68 73h1v1h-1zM68 79h1v3h-1z"/><path fill="#0000bf" d="M0 70h1v3h-1zM0 89h1v2h-1zM2 38h1v1h-1zM2 48h1v8h-1zM2 70h1v1h-1zM2 71h2v2h-2zM3 80h1v2h-1zM4 48h1v5h-1zM5 72h1v2h-1zM5 83h1v1h-1zM6 52h1v4h-1zM7 40h1v1h-1zM7 41h3v2h-3zM8 71h1v1h-1zM8 83h1v1h-1zM10 37h1v3h-1zM10 71h1v1h-1zM11 72h1v2h-1zM11 79h1v3h-1zM12 82h2v1h-2zM15 40h1v1h-1zM16 72h1v1h-1zM17 48h1v5h-1zM18 38h2v1h-2zM18 39h5v1h-5zM20 71h1v1h-1zM22 71h3v1h-3zM23 40h1v1h-1zM24 83h1v1h-1zM24 39h2v1h-2zM25 72h1v1h-1zM26 40h2v1h-2zM26 71h2v1h-2zM28 39h1v1h-1zM29 83h3v1h-3zM30 40h6v1h-6zM32 72h1v1h-1zM33 83h1v1h-1zM34 82h2v1h-2zM36 41h1v1h-1zM36 72h1v1h-1zM36 80h1v2h-1zM37 71h1v1h-1zM37 83h1v1h-1zM37 40h9v1h-9zM41 71h2v1h-2zM43 82h1v1h-1zM44 72h1v1h-1zM44 83h1v1h-1zM45 82h1v1h-1zM46 72h1v1h-1zM46 39h2v1h-2zM48 41h1v1h-1zM49 82h1v1h-1zM49 40h7v1h-7zM50 72h1v1h-1zM52 41h1v1h-1zM52 83h1v1h-1zM54 71h2v1h-2zM56 39h1v1h-1zM56 51h1v2h-1zM56 72h1v1h-1zM57 40h3v1h-3zM60 39h2v1h-2zM60 72h2v1h-2zM61 82h1v1h-1zM62 71h2v1h-2zM62 40h7v1h-7zM66 82h1v1h-1zM68 71h1v1h-1z"/><path fill="#0000cf" d="M0 39h1v2h-1zM0 69h1v1h-1zM0 91h1v4h-1zM1 41h1v2h-1zM1 71h1v2h-1zM1 82h1v2h-1zM2 39h1v1h-1zM2 69h1v1h-1zM2 87h1v2h-1zM2 40h3v1h-3zM3 82h1v1h-1zM3 41h2v2h-2zM3 70h2v1h-2zM4 53h1v3h-1zM4 85h1v1h-1zM5 71h1v1h-1zM5 84h2v1h-2zM6 40h1v3h-1zM6 70h1v1h-1zM7 71h1v1h-1zM7 82h1v1h-1zM8 70h1v1h-1zM8 84h1v1h-1zM9 71h1v1h-1zM9 82h1v1h-1zM10 70h1v1h-1zM10 84h1v2h-1zM10 40h5v1h-5zM11 82h1v1h-1zM11 41h5v1h-5zM11 71h9v1h-9zM12 83h2v1h-2zM14 81h1v1h-1zM15 49h1v4h-1zM15 82h1v1h-1zM16 83h2v1h-2zM16 40h7v1h-7zM17 53h1v1h-1zM18 84h2v1h-2zM20 70h1v1h-1zM20 83h3v1h-3zM20 41h8v1h-8zM21 71h1v1h-1zM22 70h3v1h-3zM23 81h1v1h-1zM24 84h1v1h-1zM24 40h2v1h-2zM25 71h1v1h-1zM25 83h4v1h-4zM26 70h2v1h-2zM28 40h2v1h-2zM28 71h9v1h-9zM29 84h3v1h-3zM30 41h6v1h-6zM32 83h1v1h-1zM34 83h2v1h-2zM36 42h1v1h-1zM37 70h1v1h-1zM37 84h1v1h-1zM37 41h9v1h-9zM38 42h2v1h-2zM38 82h2v1h-2zM38 71h3v1h-3zM40 83h4v1h-4zM41 42h1v1h-1zM41 70h2v1h-2zM43 71h11v1h-11zM44 84h1v1h-1zM45 83h4v1h-4zM46 40h2v1h-2zM47 41h1v1h-1zM48 42h1v1h-1zM49 41h3v1h-3zM50 84h1v1h-1zM51 82h1v1h-1zM53 83h4v1h-4zM53 41h7v1h-7zM54 70h2v1h-2zM56 40h1v1h-1zM56 53h1v2h-1zM56 71h6v1h-6zM57 42h1v1h-1zM57 82h1v1h-1zM58 83h5v1h-5zM59 49h1v6h-1zM60 40h2v1h-2zM61 52h1v4h-1zM62 70h2v1h-2zM62 41h7v1h-7zM63 82h1v1h-1zM64 83h1v1h-1zM64 71h4v1h-4zM65 82h1v1h-1zM67 42h1v1h-1zM67 83h1v1h-1zM68 70h1v1h-1zM68 82h1v1h-1z"/><path fill="#0000df" d="M0 48h1v8h-1zM1 70h1v1h-1zM2 45h1v3h-1zM2 56h1v1h-1zM3 48h1v5h-1zM3 83h1v1h-1zM4 69h1v1h-1zM4 86h1v1h-1zM5 40h1v3h-1zM6 48h1v4h-1zM6 56h1v1h-1zM6 69h1v1h-1zM6 85h1v1h-1zM7 70h1v1h-1zM7 83h1v1h-1zM8 50h1v6h-1zM9 70h1v1h-1zM9 83h1v1h-1zM10 41h1v1h-1zM10 46h1v4h-1zM10 51h1v2h-1zM10 56h1v1h-1zM10 53h2v3h-2zM10 42h6v1h-6zM11 70h5v1h-5zM14 82h1v1h-1zM15 53h1v1h-1zM15 83h1v1h-1zM16 49h1v4h-1zM16 84h2v1h-2zM16 41h4v1h-4zM17 54h2v1h-2zM17 70h3v1h-3zM18 47h2v7h-2zM18 85h2v1h-2zM20 42h16v1h-16zM21 70h1v1h-1zM21 84h2v1h-2zM25 84h2v1h-2zM28 84h1v1h-1zM28 41h2v1h-2zM28 70h4v1h-4zM29 50h3v3h-3zM30 49h2v1h-2zM30 53h2v2h-2zM33 84h1v1h-1zM33 70h4v1h-4zM36 82h1v1h-1zM37 42h1v1h-1zM38 83h2v1h-2zM38 70h3v1h-3zM40 42h1v1h-1zM41 48h1v3h-1zM41 54h1v1h-1zM41 84h1v1h-1zM41 51h3v3h-3zM42 42h6v1h-6zM43 49h1v2h-1zM43 70h1v1h-1zM44 85h1v1h-1zM45 48h1v2h-1zM45 70h1v1h-1zM45 50h3v4h-3zM46 41h1v1h-1zM46 84h2v1h-2zM47 70h3v1h-3zM49 83h1v1h-1zM49 42h8v1h-8zM50 85h1v1h-1zM51 70h3v1h-3zM52 84h2v1h-2zM53 49h1v1h-1zM53 54h1v2h-1zM53 51h2v1h-2zM53 52h3v2h-3zM53 50h5v1h-5zM55 54h1v1h-1zM55 84h2v1h-2zM55 49h3v1h-3zM56 55h1v1h-1zM57 48h1v1h-1zM57 51h1v4h-1zM57 70h3v1h-3zM58 42h2v1h-2zM59 55h1v1h-1zM59 84h2v1h-2zM60 53h1v2h-1zM60 41h2v1h-2zM61 49h1v3h-1zM62 42h5v1h-5zM64 49h1v7h-1zM64 84h1v1h-1zM64 70h4v1h-4zM66 54h1v1h-1zM66 83h1v1h-1zM66 49h2v5h-2zM68 42h1v1h-1z"/><path fill="#0000ef" d="M0 41h1v2h-1zM0 56h1v1h-1zM1 43h1v1h-1zM1 49h1v2h-1zM1 69h1v1h-1zM1 84h1v1h-1zM2 41h1v2h-1zM2 89h1v1h-1zM3 53h1v1h-1zM3 69h1v1h-1zM3 43h2v1h-2zM4 46h1v2h-1zM4 56h1v1h-1zM4 87h1v1h-1zM5 70h1v1h-1zM5 85h1v1h-1zM6 44h1v4h-1zM6 86h1v1h-1zM6 43h3v1h-3zM8 46h1v4h-1zM8 85h1v1h-1zM8 69h8v1h-8zM10 43h1v3h-1zM10 86h1v2h-1zM11 47h1v1h-1zM11 83h1v1h-1zM11 48h2v5h-2zM12 53h1v1h-1zM12 84h2v1h-2zM14 50h1v3h-1zM15 47h1v2h-1zM15 54h1v1h-1zM16 53h1v1h-1zM16 70h1v1h-1zM16 85h2v1h-2zM16 42h4v1h-4zM17 47h1v1h-1zM17 69h8v1h-8zM18 86h2v1h-2zM19 54h1v1h-1zM20 84h1v1h-1zM21 49h1v5h-1zM23 48h1v3h-1zM23 52h1v1h-1zM23 82h1v1h-1zM24 85h2v1h-2zM25 70h1v1h-1zM26 49h4v1h-4zM26 69h6v1h-6zM27 47h1v1h-1zM27 84h1v1h-1zM27 48h5v1h-5zM28 50h1v3h-1zM28 53h2v1h-2zM29 47h3v1h-3zM29 85h3v1h-3zM30 55h2v1h-2zM32 70h1v1h-1zM32 84h1v1h-1zM33 50h1v1h-1zM33 69h11v1h-11zM34 84h1v1h-1zM36 43h1v1h-1zM36 50h1v1h-1zM37 53h1v2h-1zM37 85h1v1h-1zM38 43h2v1h-2zM38 48h2v3h-2zM38 52h2v1h-2zM39 51h1v1h-1zM39 53h1v1h-1zM40 84h1v1h-1zM41 43h1v1h-1zM41 47h1v1h-1zM42 49h1v2h-1zM42 84h2v1h-2zM42 48h3v1h-3zM43 54h1v1h-1zM44 49h1v2h-1zM44 52h1v2h-1zM44 70h1v1h-1zM44 86h1v2h-1zM45 43h1v1h-1zM45 47h1v1h-1zM45 69h1v1h-1zM45 84h1v1h-1zM46 70h1v1h-1zM46 48h2v2h-2zM46 54h2v1h-2zM46 85h2v1h-2zM47 69h3v1h-3zM48 43h1v1h-1zM50 70h1v1h-1zM50 86h1v1h-1zM51 50h1v3h-1zM51 83h1v1h-1zM51 69h5v1h-5zM52 85h2v1h-2zM53 46h1v2h-1zM53 56h1v1h-1zM53 48h4v1h-4zM54 49h1v1h-1zM54 54h1v1h-1zM54 84h1v1h-1zM55 47h1v1h-1zM55 51h1v1h-1zM55 55h1v1h-1zM56 70h1v1h-1zM56 85h1v2h-1zM57 43h1v1h-1zM57 45h1v3h-1zM57 55h1v1h-1zM57 83h1v1h-1zM57 69h3v1h-3zM58 49h1v5h-1zM58 84h1v1h-1zM59 48h1v1h-1zM59 86h1v1h-1zM59 85h3v1h-3zM60 49h1v4h-1zM60 55h1v1h-1zM60 42h2v1h-2zM60 70h2v1h-2zM61 56h1v1h-1zM61 84h1v1h-1zM61 47h4v2h-4zM62 52h1v1h-1zM62 49h2v3h-2zM62 69h7v1h-7zM64 85h1v1h-1zM65 49h1v5h-1zM65 83h1v1h-1zM66 55h1v1h-1zM66 84h2v1h-2zM67 43h1v1h-1zM67 47h1v2h-1zM67 54h1v1h-1zM67 85h1v2h-1zM68 83h1v1h-1z"/><path fill="#0000ff" d="M0 43h1v1h-1zM0 45h1v2h-1zM0 47h2v1h-2zM1 48h1v1h-1zM1 51h1v3h-1zM1 85h1v1h-1zM1 44h4v1h-4zM2 43h1v1h-1zM2 68h1v1h-1zM2 90h1v5h-1zM3 46h1v2h-1zM3 54h1v1h-1zM3 84h1v1h-1zM4 45h1v1h-1zM4 68h1v1h-1zM4 88h1v1h-1zM4 0h2v1h-2zM5 43h1v1h-1zM5 50h1v3h-1zM5 69h1v1h-1zM5 86h1v1h-1zM6 68h1v1h-1zM6 87h1v1h-1zM7 49h1v5h-1zM7 69h1v1h-1zM7 84h1v1h-1zM7 44h3v1h-3zM8 56h1v1h-1zM8 68h1v1h-1zM8 86h1v1h-1zM8 45h2v1h-2zM9 43h1v1h-1zM9 49h1v1h-1zM9 51h1v3h-1zM9 84h1v1h-1zM9 50h2v1h-2zM10 0h1v1h-1zM10 88h1v1h-1zM10 68h2v1h-2zM11 84h1v1h-1zM11 43h7v1h-7zM12 54h1v1h-1zM12 85h2v1h-2zM13 51h1v1h-1zM13 48h2v2h-2zM14 53h1v1h-1zM14 83h1v1h-1zM15 84h1v1h-1zM16 47h1v2h-1zM16 54h1v1h-1zM16 69h1v1h-1zM16 86h2v1h-2zM17 45h3v2h-3zM17 44h4v1h-4zM18 88h1v1h-1zM18 87h2v1h-2zM19 43h17v1h-17zM20 49h1v4h-1zM20 68h1v1h-1zM20 48h3v1h-3zM21 47h1v1h-1zM21 54h1v1h-1zM21 85h2v1h-2zM22 49h1v2h-1zM22 52h1v1h-1zM22 51h2v1h-2zM23 47h1v1h-1zM23 53h1v1h-1zM23 68h1v1h-1zM23 83h1v1h-1zM24 86h2v1h-2zM25 0h1v1h-1zM25 49h1v1h-1zM25 69h1v1h-1zM25 48h2v1h-2zM25 52h2v2h-2zM25 50h3v2h-3zM26 68h2v1h-2zM27 44h1v2h-1zM27 46h5v1h-5zM28 47h1v1h-1zM28 54h1v1h-1zM28 85h1v1h-1zM30 44h2v2h-2zM30 86h2v1h-2zM31 87h1v1h-1zM32 50h1v1h-1zM32 69h1v1h-1zM32 85h2v1h-2zM33 48h1v1h-1zM33 51h2v1h-2zM33 49h5v1h-5zM33 52h5v1h-5zM34 50h2v1h-2zM34 53h2v1h-2zM35 47h1v1h-1zM35 84h1v1h-1zM35 68h2v1h-2zM35 48h3v1h-3zM36 51h1v1h-1zM36 67h1v1h-1zM36 83h1v1h-1zM36 44h4v1h-4zM37 0h1v1h-1zM37 43h1v1h-1zM37 50h1v1h-1zM37 55h1v1h-1zM37 86h1v2h-1zM37 45h3v1h-3zM37 47h3v1h-3zM38 51h1v1h-1zM38 53h1v1h-1zM38 46h2v1h-2zM38 68h2v1h-2zM38 84h2v1h-2zM40 43h1v1h-1zM40 48h1v3h-1zM40 52h1v1h-1zM41 44h1v3h-1zM41 55h1v1h-1zM41 85h1v1h-1zM42 54h1v1h-1zM42 43h3v1h-3zM42 47h3v1h-3zM44 51h1v1h-1zM44 69h1v1h-1zM44 88h1v1h-1zM45 54h1v1h-1zM45 68h1v1h-1zM45 44h2v2h-2zM45 46h3v1h-3zM46 69h1v1h-1zM46 88h1v1h-1zM46 43h2v1h-2zM46 47h2v1h-2zM46 86h2v2h-2zM48 44h1v1h-1zM48 50h1v2h-1zM48 68h1v1h-1zM48 84h2v1h-2zM49 43h8v1h-8zM50 50h1v1h-1zM50 52h1v1h-1zM50 69h1v1h-1zM50 87h1v1h-1zM50 46h3v4h-3zM50 44h6v2h-6zM51 53h1v1h-1zM51 68h1v1h-1zM52 50h1v1h-1zM52 52h1v1h-1zM52 86h2v1h-2zM54 47h1v1h-1zM54 55h1v1h-1zM54 46h2v1h-2zM54 68h2v1h-2zM55 85h1v1h-1zM56 47h1v1h-1zM56 56h1v1h-1zM56 69h1v1h-1zM56 87h1v1h-1zM57 44h1v1h-1zM57 68h2v1h-2zM58 48h1v1h-1zM58 54h1v1h-1zM58 43h9v1h-9zM59 0h1v1h-1zM59 46h1v1h-1zM59 56h1v1h-1zM59 47h2v1h-2zM59 87h3v1h-3zM60 48h1v1h-1zM60 69h2v1h-2zM60 86h2v1h-2zM61 46h4v1h-4zM62 53h1v1h-1zM62 84h1v1h-1zM62 68h2v1h-2zM62 45h3v1h-3zM62 44h7v1h-7zM63 52h1v1h-1zM63 83h1v1h-1zM64 56h1v1h-1zM64 86h1v1h-1zM65 68h1v1h-1zM65 47h2v2h-2zM66 85h1v2h-1zM66 45h2v2h-2zM67 55h1v1h-1zM67 87h1v1h-1zM68 43h1v1h-1zM68 48h1v4h-1zM68 68h1v1h-1z"/><path fill="#0010ff" d="M0 44h1v1h-1zM1 45h1v2h-1zM1 68h1v1h-1zM3 45h1v1h-1zM3 68h1v1h-1zM3 85h1v1h-1zM5 48h1v2h-1zM5 53h1v1h-1zM5 87h1v1h-1zM6 88h1v1h-1zM7 47h1v2h-1zM9 46h1v3h-1zM10 89h1v1h-1zM11 45h1v2h-1zM11 44h2v1h-2zM12 47h2v1h-2zM13 50h1v1h-1zM13 52h1v1h-1zM15 44h1v3h-1zM16 87h1v1h-1zM17 55h3v1h-3zM18 43h1v1h-1zM19 88h1v1h-1zM20 47h1v1h-1zM21 45h1v2h-1zM21 68h2v1h-2zM21 44h6v1h-6zM22 47h1v1h-1zM22 53h1v1h-1zM23 45h1v2h-1zM23 54h1v1h-1zM24 49h1v4h-1zM24 68h1v1h-1zM25 87h1v1h-1zM25 45h2v3h-2zM26 85h1v1h-1zM28 44h2v2h-2zM28 68h4v1h-4zM29 54h1v1h-1zM30 87h1v1h-1zM31 88h1v1h-1zM32 48h1v2h-1zM32 51h1v2h-1zM33 47h1v1h-1zM33 53h1v1h-1zM33 86h1v1h-1zM33 44h3v1h-3zM34 48h1v1h-1zM34 68h1v1h-1zM35 51h1v1h-1zM36 47h1v1h-1zM36 53h1v1h-1zM37 88h1v1h-1zM39 54h1v1h-1zM40 44h1v4h-1zM40 68h4v1h-4zM42 44h3v3h-3zM44 54h1v1h-1zM47 44h1v2h-1zM47 55h1v1h-1zM48 48h2v2h-2zM48 52h2v1h-2zM49 44h1v1h-1zM49 50h1v1h-1zM49 68h1v1h-1zM50 51h1v1h-1zM50 53h1v1h-1zM52 53h1v1h-1zM53 68h1v1h-1zM54 67h1v1h-1zM56 44h1v3h-1zM56 88h1v1h-1zM57 56h1v1h-1zM58 47h1v1h-1zM58 44h2v1h-2zM59 45h1v1h-1zM59 88h1v1h-1zM60 46h1v1h-1zM61 44h1v2h-1zM63 53h1v1h-1zM64 68h1v1h-1zM64 87h1v1h-1zM65 46h1v1h-1zM65 54h1v1h-1zM65 84h1v1h-1zM66 56h1v1h-1zM66 87h1v1h-1zM67 68h1v1h-1zM67 88h1v1h-1zM68 45h1v1h-1zM68 47h1v1h-1zM68 52h1v1h-1zM68 84h1v1h-1z"/><path fill="#0020ff" d="M0 68h1v1h-1zM4 67h1v1h-1zM4 89h1v1h-1zM5 44h1v1h-1zM5 88h1v1h-1zM6 67h1v1h-1zM7 45h1v2h-1zM7 68h1v1h-1zM9 68h1v1h-1zM10 67h2v1h-2zM12 86h1v1h-1zM12 68h8v1h-8zM13 45h1v2h-1zM13 44h2v1h-2zM14 47h1v1h-1zM14 84h1v1h-1zM16 46h1v1h-1zM17 87h1v1h-1zM20 67h1v1h-1zM23 67h1v1h-1zM23 84h1v1h-1zM24 45h1v1h-1zM24 48h1v1h-1zM24 53h1v1h-1zM24 87h1v1h-1zM25 54h1v1h-1zM26 67h2v1h-2zM27 85h1v1h-1zM28 55h1v1h-1zM28 86h2v1h-2zM30 88h1v1h-1zM32 44h1v1h-1zM32 47h1v1h-1zM32 53h1v1h-1zM32 86h1v1h-1zM32 68h2v1h-2zM33 87h1v1h-1zM33 45h4v1h-4zM33 46h5v1h-5zM34 47h1v1h-1zM34 85h1v1h-1zM34 54h2v1h-2zM35 67h1v1h-1zM36 66h1v1h-1zM37 51h1v1h-1zM37 56h1v1h-1zM37 68h1v1h-1zM38 54h1v1h-1zM38 67h2v1h-2zM40 51h1v1h-1zM40 53h1v1h-1zM42 85h1v1h-1zM45 67h1v1h-1zM47 68h1v1h-1zM47 88h1v1h-1zM48 67h1v1h-1zM48 45h2v3h-2zM49 51h1v1h-1zM49 53h1v1h-1zM50 68h1v1h-1zM50 88h1v1h-1zM51 54h1v1h-1zM51 67h1v1h-1zM51 84h1v1h-1zM52 51h1v1h-1zM52 68h1v1h-1zM52 87h2v1h-2zM54 85h1v1h-1zM55 67h1v1h-1zM55 86h1v1h-1zM56 68h1v1h-1zM57 84h1v1h-1zM57 67h2v1h-2zM58 45h1v2h-1zM58 85h1v1h-1zM59 68h3v1h-3zM60 44h1v2h-1zM60 88h2v1h-2zM62 54h1v1h-1zM62 67h2v1h-2zM65 45h1v1h-1zM65 67h1v1h-1zM66 68h1v1h-1zM66 88h1v1h-1zM68 46h1v1h-1zM68 67h1v1h-1z"/><path fill="#0030ff" d="M2 67h2v1h-2zM3 86h1v1h-1zM5 45h1v3h-1zM5 68h1v1h-1zM6 57h1v1h-1zM7 85h1v1h-1zM8 67h1v1h-1zM8 87h1v1h-1zM9 54h1v1h-1zM9 85h1v1h-1zM11 56h1v1h-1zM11 85h1v1h-1zM12 45h1v2h-1zM12 55h1v1h-1zM13 53h1v1h-1zM14 45h1v2h-1zM14 54h1v1h-1zM15 55h1v1h-1zM15 85h1v1h-1zM16 44h1v2h-1zM16 88h1v1h-1zM17 56h1v1h-1zM18 89h1v1h-1zM20 45h1v2h-1zM20 53h1v1h-1zM20 85h1v1h-1zM21 55h1v1h-1zM21 67h2v1h-2zM21 86h2v1h-2zM22 45h1v2h-1zM22 54h1v1h-1zM24 46h1v2h-1zM24 54h1v1h-1zM24 67h1v1h-1zM24 88h2v1h-2zM26 54h1v1h-1zM27 52h1v1h-1zM28 67h2v1h-2zM31 89h1v1h-1zM32 45h1v2h-1zM35 85h1v1h-1zM36 65h1v1h-1zM36 84h1v1h-1zM38 85h1v1h-1zM38 55h2v1h-2zM40 85h1v1h-1zM41 86h1v1h-1zM41 67h3v1h-3zM43 55h1v1h-1zM43 85h1v1h-1zM44 68h1v1h-1zM45 85h1v1h-1zM46 55h1v1h-1zM46 68h1v1h-1zM48 53h1v1h-1zM49 67h1v1h-1zM50 54h1v1h-1zM52 54h1v1h-1zM54 56h2v1h-2zM62 85h1v1h-1zM63 84h1v1h-1zM64 88h1v1h-1zM68 53h1v1h-1z"/><path fill="#0040ff" d="M0 67h2v1h-2zM1 54h1v1h-1zM1 86h1v1h-1zM2 57h1v1h-1zM4 90h1v1h-1zM7 54h1v1h-1zM9 67h1v1h-1zM10 57h1v1h-1zM12 87h1v1h-1zM13 86h1v1h-1zM13 67h3v1h-3zM16 55h1v1h-1zM17 67h1v1h-1zM17 88h1v1h-1zM23 55h1v1h-1zM23 66h1v1h-1zM25 55h1v1h-1zM25 68h1v1h-1zM28 87h1v1h-1zM30 56h1v1h-1zM30 89h1v1h-1zM31 67h1v1h-1zM32 87h1v1h-1zM33 54h1v1h-1zM34 67h1v1h-1zM36 54h1v1h-1zM36 63h1v2h-1zM39 85h1v1h-1zM40 67h1v1h-1zM42 86h1v1h-1zM46 89h1v1h-1zM48 85h1v1h-1zM51 55h1v1h-1zM51 85h1v1h-1zM52 88h1v1h-1zM53 67h1v1h-1zM54 86h1v1h-1zM58 55h1v1h-1zM60 56h1v1h-1zM63 54h1v1h-1zM64 67h1v1h-1zM65 55h1v1h-1zM67 56h1v1h-1zM67 67h1v1h-1zM68 85h1v1h-1z"/><path fill="#0050ff" d="M3 55h1v1h-1zM3 87h1v1h-1zM5 54h1v1h-1zM5 89h2v1h-2zM7 67h1v1h-1zM7 86h1v1h-1zM8 57h1v1h-1zM8 88h1v1h-1zM9 86h1v1h-1zM11 86h1v1h-1zM12 67h1v1h-1zM15 56h1v1h-1zM15 86h1v1h-1zM18 56h2v1h-2zM19 67h1v1h-1zM19 89h1v1h-1zM20 66h1v1h-1zM21 56h1v1h-1zM21 87h2v1h-2zM23 85h1v1h-1zM24 55h1v1h-1zM26 55h1v1h-1zM26 86h2v1h-2zM27 53h1v1h-1zM29 87h1v1h-1zM30 67h1v1h-1zM31 56h1v1h-1zM32 54h1v1h-1zM33 67h1v1h-1zM33 88h1v1h-1zM34 55h2v1h-2zM34 86h2v1h-2zM36 62h1v1h-1zM37 67h1v1h-1zM37 89h1v1h-1zM41 87h1v1h-1zM42 55h1v1h-1zM44 55h2v1h-2zM45 86h1v1h-1zM47 56h1v1h-1zM47 67h1v1h-1zM49 54h1v1h-1zM49 85h1v1h-1zM50 55h1v1h-1zM52 55h1v1h-1zM52 67h1v1h-1zM53 57h1v1h-1zM53 88h1v1h-1zM55 87h1v1h-1zM57 57h1v1h-1zM57 66h1v1h-1zM57 85h1v1h-1zM58 86h1v1h-1zM59 57h1v1h-1zM59 67h1v1h-1zM61 57h1v1h-1zM61 67h1v1h-1zM61 89h1v1h-1zM62 55h1v1h-1zM63 66h1v1h-1zM65 85h1v1h-1zM66 67h1v1h-1z"/><path fill="#0060ff" d="M1 87h1v1h-1zM4 57h1v1h-1zM4 91h1v1h-1zM12 56h1v1h-1zM12 88h1v1h-1zM13 54h1v1h-1zM14 85h1v1h-1zM14 66h2v1h-2zM16 89h1v1h-1zM18 90h1v1h-1zM20 54h1v1h-1zM22 55h1v1h-1zM25 56h2v1h-2zM28 56h1v1h-1zM29 55h1v1h-1zM32 67h1v1h-1zM38 86h1v1h-1zM40 54h1v1h-1zM40 86h1v1h-1zM41 56h1v1h-1zM43 86h1v1h-1zM44 89h1v1h-1zM47 89h1v1h-1zM48 54h1v1h-1zM50 67h1v1h-1zM56 89h1v1h-1zM60 67h1v1h-1zM60 89h1v1h-1zM62 66h1v1h-1zM63 85h1v1h-1zM66 89h1v1h-1zM68 54h1v1h-1z"/><path fill="#0070ff" d="M0 57h1v1h-1zM1 88h1v1h-1zM3 88h1v1h-1zM4 96h1v1h-1zM9 55h1v1h-1zM9 87h1v1h-1zM10 90h1v5h-1zM11 57h1v1h-1zM11 87h1v1h-1zM13 87h1v1h-1zM14 55h1v1h-1zM15 87h1v1h-1zM16 67h1v1h-1zM18 67h1v1h-1zM20 86h1v1h-1zM22 88h1v1h-1zM23 56h2v1h-2zM25 89h1v1h-1zM26 87h1v1h-1zM28 88h1v1h-1zM30 90h2v1h-2zM32 88h1v1h-1zM35 66h1v1h-1zM36 61h1v1h-1zM36 85h1v1h-1zM38 56h2v1h-2zM39 86h1v1h-1zM42 87h1v1h-1zM46 67h1v1h-1zM46 90h1v1h-1zM48 86h1v1h-1zM51 66h1v1h-1zM51 86h1v1h-1zM54 57h3v1h-3zM55 88h1v1h-1zM56 67h1v1h-1zM57 65h1v1h-1zM58 66h1v1h-1zM59 89h1v1h-1zM62 86h1v1h-1zM63 65h1v1h-1zM64 57h1v1h-1zM65 56h1v1h-1zM65 66h1v1h-1zM66 57h1v1h-1zM67 89h1v1h-1zM68 66h1v1h-1z"/><path fill="#0080ff" d="M1 55h1v1h-1zM4 92h1v1h-1zM4 95h1v1h-1zM5 55h1v1h-1zM5 67h1v1h-1zM5 90h1v1h-1zM7 55h1v1h-1zM7 87h1v1h-1zM8 89h1v1h-1zM11 66h1v1h-1zM11 88h1v1h-1zM14 86h1v1h-1zM14 65h2v1h-2zM15 57h1v1h-1zM16 56h1v1h-1zM17 57h1v1h-1zM17 66h1v1h-1zM19 90h1v1h-1zM21 88h1v1h-1zM23 65h1v1h-1zM23 86h1v1h-1zM25 67h1v1h-1zM27 54h1v1h-1zM27 66h1v1h-1zM29 88h1v1h-1zM33 55h1v1h-1zM36 60h1v1h-1zM38 87h1v1h-1zM41 88h1v1h-1zM42 66h2v1h-2zM43 56h1v1h-1zM43 87h1v1h-1zM44 67h1v1h-1zM45 87h1v1h-1zM46 56h1v1h-1zM48 66h1v1h-1zM49 86h1v1h-1zM50 89h1v1h-1zM51 56h2v1h-2zM54 87h1v1h-1zM56 0h1v1h-1zM58 56h1v1h-1zM58 65h1v1h-1zM58 87h1v1h-1zM61 90h1v1h-1zM62 56h1v1h-1zM62 65h1v1h-1zM63 55h1v1h-1zM65 86h1v1h-1zM68 65h1v1h-1zM68 86h1v1h-1z"/><path fill="#008fff" d="M3 56h1v1h-1zM4 93h1v2h-1zM6 66h1v1h-1zM8 66h1v1h-1zM11 65h1v1h-1zM13 66h1v1h-1zM13 88h1v1h-1zM17 89h1v1h-1zM20 65h1v1h-1zM21 57h1v1h-1zM23 57h1v1h-1zM26 66h1v1h-1zM27 87h1v1h-1zM31 91h1v1h-1zM34 56h1v1h-1zM34 87h1v1h-1zM36 55h1v1h-1zM36 59h1v1h-1zM37 57h1v1h-1zM45 66h1v1h-1zM50 56h1v1h-1zM57 86h1v1h-1zM60 90h1v1h-1zM65 65h1v1h-1z"/><path fill="#009fff" d="M3 89h1v1h-1zM3 66h2v1h-2zM6 58h1v1h-1zM6 65h1v1h-1zM7 88h1v1h-1zM8 65h1v1h-1zM9 88h1v1h-1zM12 57h1v1h-1zM13 55h1v1h-1zM14 56h1v1h-1zM15 88h1v1h-1zM18 91h1v1h-1zM20 87h1v1h-1zM22 56h1v1h-1zM23 64h1v1h-1zM24 89h1v1h-1zM26 88h1v1h-1zM27 65h1v1h-1zM30 91h1v1h-1zM32 55h1v1h-1zM32 89h2v1h-2zM34 66h1v1h-1zM35 56h1v1h-1zM35 65h1v1h-1zM35 87h1v1h-1zM39 87h2v1h-2zM41 57h1v1h-1zM41 66h1v1h-1zM42 56h1v1h-1zM42 88h1v1h-1zM43 57h1v1h-1zM44 90h1v1h-1zM46 91h1v1h-1zM48 65h1v1h-1zM51 65h1v1h-1zM51 87h1v1h-1zM52 89h1v1h-1zM54 66h2v1h-2zM57 58h1v1h-1zM58 57h1v1h-1zM61 96h1v1h-1zM62 87h1v1h-1zM63 56h1v1h-1zM63 62h1v3h-1zM63 86h1v1h-1zM64 89h1v1h-1zM67 57h1v1h-1zM68 64h1v1h-1z"/><path fill="#00afff" d="M1 66h1v1h-1zM5 91h1v1h-1zM6 64h1v1h-1zM6 90h1v1h-1zM8 64h1v1h-1zM9 56h1v1h-1zM11 64h1v1h-1zM12 89h1v1h-1zM14 87h1v1h-1zM16 90h1v1h-1zM17 65h1v1h-1zM21 66h1v1h-1zM26 57h1v1h-1zM37 90h1v1h-1zM38 57h1v1h-1zM38 88h1v1h-1zM39 66h1v1h-1zM43 88h1v1h-1zM45 88h1v1h-1zM47 90h1v1h-1zM49 66h1v1h-1zM54 88h1v1h-1zM54 65h2v1h-2zM56 90h1v1h-1zM58 88h1v1h-1zM61 91h1v1h-1zM62 64h1v1h-1zM65 57h1v1h-1zM66 90h1v1h-1zM68 62h1v2h-1z"/><path fill="#00bfff" d="M3 57h1v1h-1zM7 56h1v1h-1zM7 66h1v1h-1zM10 65h1v2h-1zM13 65h1v1h-1zM14 64h2v1h-2zM19 91h1v1h-1zM20 64h1v1h-1zM23 63h1v1h-1zM24 66h1v1h-1zM25 90h1v1h-1zM26 65h1v1h-1zM27 64h1v1h-1zM28 57h1v1h-1zM28 66h1v1h-1zM29 56h1v1h-1zM30 92h2v1h-2zM34 65h1v1h-1zM36 86h1v1h-1zM38 66h1v1h-1zM39 57h1v1h-1zM39 65h1v1h-1zM40 55h1v1h-1zM40 66h1v1h-1zM42 65h2v1h-2zM45 56h1v1h-1zM45 65h1v1h-1zM48 87h1v1h-1zM51 57h1v1h-1zM51 64h1v1h-1zM53 58h1v1h-1zM53 89h1v1h-1zM57 59h1v2h-1zM57 62h1v3h-1zM59 90h1v1h-1zM60 57h1v1h-1zM62 57h1v1h-1zM62 63h1v1h-1zM65 87h1v1h-1zM68 87h1v1h-1z"/><path fill="#00cfff" d="M1 56h1v1h-1zM1 89h1v1h-1zM3 65h2v1h-2zM5 56h1v1h-1zM5 92h1v1h-1zM6 63h1v1h-1zM8 58h1v1h-1zM8 63h1v1h-1zM9 66h1v1h-1zM10 64h1v1h-1zM11 58h1v1h-1zM11 63h1v1h-1zM13 56h1v1h-1zM14 57h1v1h-1zM14 62h2v2h-2zM18 92h1v1h-1zM18 57h2v1h-2zM20 55h1v1h-1zM20 63h1v1h-1zM21 65h1v1h-1zM22 66h1v1h-1zM23 62h1v1h-1zM23 87h1v1h-1zM25 57h1v1h-1zM25 96h1v1h-1zM27 55h1v1h-1zM27 62h1v2h-1zM28 65h1v1h-1zM30 94h1v1h-1zM30 93h2v1h-2zM31 66h3v1h-3zM34 57h1v1h-1zM34 88h1v1h-1zM35 63h1v2h-1zM36 56h1v3h-1zM38 65h1v1h-1zM41 65h1v1h-1zM42 57h1v1h-1zM44 56h1v1h-1zM46 92h1v1h-1zM47 57h1v1h-1zM48 63h1v2h-1zM49 87h1v1h-1zM51 63h1v1h-1zM51 88h1v1h-1zM52 66h1v1h-1zM54 58h2v1h-2zM54 64h2v1h-2zM58 63h1v2h-1zM59 66h1v1h-1zM60 91h1v1h-1zM61 92h1v4h-1zM62 62h1v1h-1zM63 57h1v1h-1zM63 60h1v2h-1zM65 64h1v1h-1zM67 90h1v1h-1zM68 55h1v1h-1z"/><path fill="#00dfff" d="M1 65h1v1h-1zM2 66h1v1h-1zM3 90h1v1h-1zM5 93h1v1h-1zM7 65h1v1h-1zM9 65h1v1h-1zM10 58h1v1h-1zM11 62h1v1h-1zM15 58h1v1h-1zM16 57h1v1h-1zM19 66h1v1h-1zM20 62h1v1h-1zM20 88h1v1h-1zM22 89h1v1h-1zM24 57h1v1h-1zM26 64h1v1h-1zM27 88h1v1h-1zM29 66h1v1h-1zM30 96h1v1h-1zM30 57h2v1h-2zM31 94h1v1h-1zM32 90h1v1h-1zM35 57h1v1h-1zM35 62h1v1h-1zM35 88h1v1h-1zM38 64h2v1h-2zM39 88h2v1h-2zM43 64h1v1h-1zM47 66h1v1h-1zM48 62h1v1h-1zM49 55h1v1h-1zM49 65h1v1h-1zM50 90h1v1h-1zM52 90h1v1h-1zM54 63h1v1h-1zM55 89h1v1h-1zM56 91h1v1h-1zM56 96h1v1h-1zM57 87h1v1h-1zM58 62h1v1h-1zM59 91h1v1h-1zM62 88h1v1h-1zM63 59h1v1h-1zM65 62h1v2h-1zM66 66h1v1h-1z"/><path fill="#00efff" d="M5 94h1v1h-1zM5 96h1v1h-1zM7 64h1v1h-1zM7 89h1v1h-1zM9 57h1v1h-1zM9 64h1v1h-1zM11 89h1v1h-1zM12 66h1v1h-1zM13 64h1v1h-1zM14 88h1v1h-1zM17 90h1v1h-1zM18 66h1v1h-1zM18 93h1v2h-1zM18 96h1v1h-1zM19 92h1v1h-1zM23 58h1v1h-1zM24 90h1v1h-1zM28 89h1v1h-1zM29 65h1v1h-1zM31 96h1v1h-1zM33 56h1v1h-1zM33 90h1v1h-1zM37 91h1v1h-1zM37 96h1v1h-1zM39 63h1v1h-1zM40 65h1v1h-1zM42 64h1v1h-1zM43 63h1v1h-1zM44 66h1v1h-1zM44 91h1v1h-1zM46 93h1v1h-1zM47 91h1v1h-1zM48 55h1v1h-1zM51 62h1v1h-1zM52 57h1v1h-1zM53 66h1v1h-1zM54 59h1v2h-1zM54 62h1v1h-1zM55 63h1v1h-1zM57 61h1v1h-1zM58 58h2v1h-2zM63 87h1v1h-1zM63 58h2v1h-2zM65 88h1v1h-1zM67 66h1v1h-1zM68 88h1v1h-1z"/><path fill="#00ffff" d="M0 66h1v1h-1zM2 58h1v1h-1zM4 58h1v1h-1zM5 66h1v1h-1zM5 95h1v1h-1zM6 59h1v1h-1zM6 91h1v1h-1zM6 96h1v1h-1zM8 59h1v1h-1zM8 62h1v1h-1zM8 90h1v1h-1zM9 63h1v1h-1zM9 89h1v1h-1zM11 61h1v1h-1zM12 65h1v1h-1zM13 57h1v1h-1zM13 89h1v1h-1zM14 60h2v2h-2zM15 89h1v1h-1zM16 66h1v1h-1zM16 91h1v1h-1zM17 58h1v1h-1zM18 95h1v1h-1zM19 65h1v1h-1zM19 93h1v2h-1zM19 96h1v1h-1zM20 56h1v1h-1zM21 89h1v1h-1zM22 57h1v1h-1zM22 65h1v1h-1zM23 59h1v3h-1zM23 88h1v1h-1zM24 64h1v2h-1zM25 66h1v1h-1zM25 91h1v1h-1zM26 62h1v2h-1zM26 89h1v1h-1zM27 56h1v1h-1zM28 64h1v1h-1zM29 89h1v1h-1zM30 66h1v1h-1zM30 95h2v1h-2zM32 56h1v1h-1zM32 91h1v1h-1zM32 65h2v1h-2zM34 62h1v3h-1zM37 66h1v1h-1zM38 63h1v1h-1zM38 89h1v1h-1zM39 62h1v1h-1zM40 56h1v1h-1zM41 64h1v1h-1zM41 89h1v1h-1zM42 63h1v1h-1zM42 62h2v1h-2zM45 64h1v1h-1zM45 57h2v1h-2zM46 94h1v1h-1zM46 96h2v1h-2zM47 65h1v1h-1zM48 88h2v1h-2zM49 62h1v3h-1zM50 57h1v1h-1zM50 66h1v1h-1zM53 65h1v1h-1zM53 96h1v1h-1zM54 61h2v1h-2zM55 59h1v2h-1zM55 62h1v1h-1zM56 58h1v1h-1zM56 65h1v2h-1zM56 92h1v1h-1zM57 88h1v1h-1zM58 59h1v3h-1zM59 65h1v1h-1zM59 96h1v1h-1zM59 92h2v1h-2zM60 66h2v1h-2zM61 58h2v1h-2zM62 61h1v1h-1zM64 65h1v2h-1zM64 90h1v1h-1zM65 59h1v3h-1zM65 58h2v1h-2zM66 91h1v1h-1zM66 96h1v1h-1zM68 56h1v1h-1zM68 60h1v2h-1z"/><path fill="#10ffef" d="M1 90h1v1h-1zM2 65h1v1h-1zM3 91h1v1h-1zM4 64h1v1h-1zM6 60h1v1h-1zM6 62h1v1h-1zM7 57h1v1h-1zM7 63h1v1h-1zM8 60h1v2h-1zM11 59h1v2h-1zM12 58h1v1h-1zM12 64h1v1h-1zM13 62h1v2h-1zM14 58h1v1h-1zM15 59h1v1h-1zM16 65h1v1h-1zM17 64h1v1h-1zM19 95h1v1h-1zM21 64h1v1h-1zM25 92h1v1h-1zM25 95h1v1h-1zM27 61h1v1h-1zM28 63h1v1h-1zM29 57h1v1h-1zM31 65h1v1h-1zM33 91h1v1h-1zM35 61h1v1h-1zM36 87h1v1h-1zM39 58h1v1h-1zM40 64h1v1h-1zM41 58h1v1h-1zM41 62h1v2h-1zM43 58h1v1h-1zM44 92h1v1h-1zM45 62h1v2h-1zM45 89h1v1h-1zM46 66h1v1h-1zM53 90h1v1h-1zM56 93h1v3h-1zM59 95h1v1h-1zM59 93h2v2h-2zM62 59h1v2h-1zM66 65h2v1h-2zM68 57h1v1h-1z"/><path fill="#20ffdf" d="M3 64h1v1h-1zM6 61h1v1h-1zM16 92h1v1h-1zM21 63h1v1h-1zM24 96h1v1h-1zM27 60h1v1h-1zM28 62h1v1h-1zM35 58h1v1h-1zM35 60h1v1h-1zM40 63h1v1h-1zM46 95h1v1h-1zM47 92h1v1h-1zM48 56h2v1h-2zM50 65h1v1h-1zM51 58h1v1h-1zM52 65h1v1h-1zM53 64h1v1h-1z"/><path fill="#30ffcf" d="M1 64h1v1h-1zM3 92h1v1h-1zM6 92h1v1h-1zM7 62h1v1h-1zM9 58h1v1h-1zM9 62h1v1h-1zM10 63h1v1h-1zM12 90h1v1h-1zM14 59h1v1h-1zM16 96h1v1h-1zM17 62h1v2h-1zM17 91h1v1h-1zM18 65h1v1h-1zM20 57h1v1h-1zM20 60h1v2h-1zM21 58h1v1h-1zM21 62h1v1h-1zM22 64h1v1h-1zM22 90h1v1h-1zM24 91h1v1h-1zM25 65h1v1h-1zM25 93h1v2h-1zM27 57h1v1h-1zM29 63h1v2h-1zM30 65h1v1h-1zM34 89h1v1h-1zM35 59h1v1h-1zM37 65h1v1h-1zM37 92h1v1h-1zM38 58h1v1h-1zM38 62h1v1h-1zM39 59h1v3h-1zM40 62h1v1h-1zM42 89h2v1h-2zM43 60h1v2h-1zM44 65h1v1h-1zM47 93h1v1h-1zM48 60h1v2h-1zM50 91h1v1h-1zM51 89h1v1h-1zM52 64h1v1h-1zM52 91h1v1h-1zM54 89h1v1h-1zM59 64h1v1h-1zM60 96h1v1h-1zM66 92h1v1h-1zM66 64h2v1h-2zM67 91h1v1h-1zM68 58h1v2h-1z"/><path fill="#40ffbf" d="M1 57h1v1h-1zM3 58h1v1h-1zM3 63h1v1h-1zM12 63h1v1h-1zM16 93h1v1h-1zM16 95h1v1h-1zM26 58h1v1h-1zM28 58h1v1h-1zM28 90h1v1h-1zM29 62h1v1h-1zM32 92h1v1h-1zM37 93h1v3h-1zM40 57h1v1h-1zM41 60h1v2h-1zM42 58h1v1h-1zM43 59h1v1h-1zM44 93h1v1h-1zM47 94h1v2h-1zM51 59h1v3h-1zM53 59h1v1h-1zM53 63h1v1h-1zM58 89h1v1h-1zM60 65h2v1h-2zM66 93h1v1h-1zM66 95h1v1h-1zM67 58h1v1h-1zM67 96h1v1h-1z"/><path fill="#50ffaf" d="M0 58h1v1h-1zM0 65h1v1h-1zM1 63h1v1h-1zM3 62h1v1h-1zM4 63h1v1h-1zM5 57h1v1h-1zM5 65h1v1h-1zM9 59h1v3h-1zM13 61h1v1h-1zM16 94h1v1h-1zM17 96h1v1h-1zM21 90h1v1h-1zM22 63h1v1h-1zM27 58h1v2h-1zM35 89h1v1h-1zM37 64h1v1h-1zM38 90h1v1h-1zM41 59h1v1h-1zM42 60h1v2h-1zM44 57h1v1h-1zM47 64h1v1h-1zM48 57h2v1h-2zM50 64h1v1h-1zM53 60h1v1h-1zM53 91h1v1h-1zM53 95h1v1h-1zM55 90h1v1h-1zM59 63h1v1h-1zM63 88h1v1h-1zM65 89h1v1h-1zM66 94h1v1h-1z"/><path fill="#60ff9f" d="M1 62h1v1h-1zM3 96h1v1h-1zM6 93h1v3h-1zM7 58h1v1h-1zM13 58h1v1h-1zM13 60h1v1h-1zM22 62h1v1h-1zM24 63h1v1h-1zM25 64h1v1h-1zM26 61h1v1h-1zM32 93h1v1h-1zM32 57h2v1h-2zM32 64h2v1h-2zM33 92h1v1h-1zM34 58h1v1h-1zM42 59h1v1h-1zM45 58h1v1h-1zM53 62h1v1h-1zM59 62h1v1h-1zM60 95h1v1h-1zM64 59h1v1h-1zM64 64h1v1h-1zM64 91h1v1h-1z"/><path fill="#70ff8f" d="M2 64h1v1h-1zM3 93h1v1h-1zM7 61h1v1h-1zM8 91h1v1h-1zM9 90h1v1h-1zM10 59h1v1h-1zM11 90h1v1h-1zM11 96h1v1h-1zM12 62h1v1h-1zM17 92h1v1h-1zM19 64h1v1h-1zM21 59h1v1h-1zM21 61h1v1h-1zM26 59h1v2h-1zM28 61h1v1h-1zM32 94h1v1h-1zM34 61h1v1h-1zM38 96h1v1h-1zM39 89h1v1h-1zM44 94h1v1h-1zM45 61h1v1h-1zM46 65h1v1h-1zM49 60h1v2h-1zM53 61h1v1h-1zM56 64h1v1h-1zM59 59h1v1h-1zM64 60h1v1h-1zM64 63h1v1h-1zM64 96h1v1h-1zM66 59h1v1h-1zM68 89h1v1h-1z"/><path fill="#80ff80" d="M3 94h1v1h-1zM7 59h1v2h-1zM7 90h1v1h-1zM12 96h1v1h-1zM15 90h1v1h-1zM16 64h1v1h-1zM17 59h1v3h-1zM18 58h3v1h-3zM20 59h1v1h-1zM21 60h1v1h-1zM22 58h1v1h-1zM22 91h1v1h-1zM27 89h1v1h-1zM28 59h1v2h-1zM28 96h1v1h-1zM29 58h1v1h-1zM29 90h1v1h-1zM31 64h1v1h-1zM32 96h1v1h-1zM32 63h2v1h-2zM34 60h1v1h-1zM36 88h1v1h-1zM37 58h1v1h-1zM38 59h1v3h-1zM41 90h1v1h-1zM45 59h1v2h-1zM45 90h1v1h-1zM47 58h2v1h-2zM48 59h1v1h-1zM50 92h1v1h-1zM52 58h1v1h-1zM52 96h1v1h-1zM60 58h1v1h-1zM62 89h1v1h-1zM64 61h1v2h-1zM66 63h2v1h-2zM67 92h1v1h-1z"/><path fill="#8fff70" d="M0 64h1v1h-1zM3 59h1v2h-1zM12 61h1v1h-1zM17 93h1v1h-1zM18 64h1v1h-1zM19 63h1v1h-1zM26 90h1v1h-1zM34 59h1v1h-1zM40 61h1v1h-1zM40 89h1v1h-1zM53 94h1v1h-1zM59 60h1v2h-1zM66 60h1v1h-1zM67 93h1v1h-1z"/><path fill="#9fff60" d="M1 91h1v1h-1zM3 61h1v1h-1zM3 95h1v1h-1zM5 64h1v1h-1zM8 96h1v1h-1zM12 60h1v1h-1zM12 91h1v1h-1zM12 59h2v1h-2zM13 90h1v1h-1zM14 89h1v1h-1zM16 58h1v1h-1zM17 94h1v2h-1zM20 89h1v1h-1zM22 61h1v1h-1zM23 89h1v1h-1zM24 62h1v1h-1zM24 92h1v1h-1zM24 95h1v1h-1zM28 91h1v1h-1zM29 59h1v1h-1zM29 61h1v1h-1zM30 64h1v1h-1zM32 62h1v1h-1zM33 93h1v1h-1zM37 63h1v1h-1zM38 91h1v1h-1zM40 58h1v1h-1zM40 60h1v1h-1zM44 64h1v1h-1zM47 63h1v1h-1zM48 89h2v1h-2zM49 59h1v1h-1zM49 58h2v1h-2zM50 63h1v1h-1zM50 96h1v1h-1zM51 90h1v1h-1zM52 63h1v1h-1zM52 92h2v1h-2zM56 59h1v1h-1zM56 62h1v2h-1zM57 89h1v1h-1zM60 64h2v1h-2zM61 59h1v1h-1zM66 62h2v1h-2zM67 59h1v1h-1zM67 94h1v2h-1z"/><path fill="#afff50" d="M1 58h1v1h-1zM4 59h1v1h-1zM4 62h1v1h-1zM10 60h1v1h-1zM10 62h1v1h-1zM19 62h1v1h-1zM22 59h1v2h-1zM24 93h1v2h-1zM24 58h2v1h-2zM25 63h1v1h-1zM29 60h1v1h-1zM30 58h1v1h-1zM32 95h1v1h-1zM33 62h1v1h-1zM33 94h1v1h-1zM33 96h1v1h-1zM34 90h1v1h-1zM40 59h1v1h-1zM43 90h1v1h-1zM44 96h1v1h-1zM52 62h1v1h-1zM53 93h1v1h-1zM56 60h1v1h-1zM64 92h1v1h-1zM65 90h1v1h-1z"/><path fill="#bfff40" d="M1 61h1v1h-1zM1 92h1v1h-1zM4 60h1v1h-1zM8 92h1v1h-1zM10 61h1v1h-1zM16 62h1v2h-1zM21 91h1v1h-1zM26 96h1v1h-1zM31 58h1v1h-1zM31 63h1v1h-1zM42 90h1v1h-1zM44 63h1v1h-1zM46 58h1v1h-1zM47 62h1v1h-1zM50 62h1v1h-1zM50 93h1v1h-1zM55 91h1v1h-1zM55 96h1v1h-1zM56 61h1v1h-1zM58 90h1v1h-1zM60 63h1v1h-1zM61 60h1v1h-1zM66 61h1v1h-1zM67 60h1v1h-1z"/><path fill="#cfff30" d="M0 63h1v1h-1zM1 60h1v1h-1zM2 63h1v1h-1zM21 96h1v1h-1zM28 92h1v1h-1zM38 92h1v1h-1zM38 95h1v1h-1zM44 95h1v1h-1zM50 94h1v1h-1zM61 63h1v1h-1zM64 95h1v1h-1zM67 61h1v1h-1z"/><path fill="#dfff20" d="M2 59h1v1h-1zM4 61h1v1h-1zM5 58h1v1h-1zM5 63h1v1h-1zM7 91h1v1h-1zM11 91h1v1h-1zM11 95h1v1h-1zM12 92h1v1h-1zM18 63h1v1h-1zM22 92h1v1h-1zM24 61h1v1h-1zM30 63h1v1h-1zM31 62h1v1h-1zM32 58h1v1h-1zM37 62h1v1h-1zM44 58h1v1h-1zM44 62h1v1h-1zM46 64h1v1h-1zM51 96h1v1h-1zM52 59h1v1h-1zM52 93h1v3h-1zM54 90h1v1h-1zM60 59h1v1h-1zM60 62h2v1h-2zM64 93h1v2h-1z"/><path fill="#efff10" d="M1 59h1v1h-1zM5 59h1v1h-1zM8 93h1v3h-1zM9 91h1v1h-1zM12 95h1v1h-1zM15 91h1v1h-1zM18 59h2v1h-2zM22 93h1v1h-1zM22 96h1v1h-1zM24 60h1v1h-1zM24 59h2v1h-2zM25 62h1v1h-1zM26 91h1v1h-1zM28 93h1v3h-1zM33 58h1v1h-1zM35 90h1v1h-1zM37 59h1v1h-1zM38 93h1v2h-1zM44 59h1v1h-1zM45 91h1v1h-1zM46 59h2v1h-2zM50 59h1v1h-1zM50 95h1v1h-1zM51 91h1v1h-1zM52 60h1v2h-1zM60 60h1v1h-1z"/><path fill="#ffff00" d="M0 59h1v1h-1zM1 93h1v1h-1zM1 96h1v1h-1zM2 60h1v1h-1zM5 60h1v1h-1zM12 93h1v2h-1zM16 59h1v1h-1zM16 61h1v1h-1zM18 62h1v1h-1zM19 60h1v2h-1zM22 94h1v1h-1zM25 60h1v1h-1zM29 91h1v1h-1zM30 62h1v1h-1zM30 59h4v1h-4zM33 95h1v1h-1zM37 60h1v1h-1zM39 90h1v1h-1zM44 60h1v2h-1zM46 63h1v1h-1zM46 60h2v1h-2zM47 61h1v1h-1zM50 60h1v1h-1zM57 90h1v1h-1zM61 61h1v1h-1zM68 90h1v1h-1z"/><path fill="#ffef00" d="M0 60h1v1h-1zM1 94h1v1h-1zM5 62h1v1h-1zM16 60h1v1h-1zM18 60h1v1h-1zM21 92h1v1h-1zM23 90h1v1h-1zM30 60h4v1h-4zM46 61h1v1h-1zM50 61h1v1h-1zM55 92h1v1h-1zM60 61h1v1h-1zM62 90h1v1h-1z"/><path fill="#ffdf00" d="M2 61h1v1h-1zM5 61h1v1h-1zM11 92h1v1h-1zM13 91h1v1h-1zM18 61h1v1h-1zM22 95h1v1h-1zM30 61h4v1h-4zM34 91h1v1h-1zM37 61h1v1h-1zM46 62h1v1h-1z"/><path fill="#ffcf00" d="M0 61h1v1h-1zM2 62h1v1h-1zM11 94h1v1h-1zM21 93h1v1h-1zM25 61h1v1h-1zM26 92h1v1h-1zM26 95h1v1h-1zM41 91h1v1h-1zM45 92h1v1h-1zM49 90h1v1h-1zM63 89h1v1h-1zM65 91h1v1h-1z"/><path fill="#ffbf00" d="M0 62h1v1h-1zM7 92h1v1h-1zM9 96h1v1h-1zM11 93h1v1h-1zM13 96h1v1h-1zM14 90h1v1h-1zM15 92h1v1h-1zM15 96h1v1h-1zM20 90h1v1h-1zM21 94h1v1h-1zM26 94h1v1h-1zM27 90h1v1h-1zM40 90h1v1h-1zM43 91h1v1h-1zM51 92h1v1h-1zM51 95h1v1h-1zM55 93h1v3h-1zM58 91h1v1h-1z"/><path fill="#ffaf00" d="M21 95h1v1h-1zM26 93h1v1h-1zM45 93h1v1h-1z"/><path fill="#ff9f00" d="M1 95h1v1h-1zM9 92h1v1h-1zM41 96h1v1h-1zM48 90h1v1h-1zM51 93h1v2h-1zM65 96h1v1h-1z"/><path fill="#ff8f00" d="M7 93h1v1h-1zM7 96h1v1h-1zM15 93h1v1h-1zM29 92h1v1h-1zM34 96h1v1h-1zM45 94h1v1h-1zM45 96h1v1h-1z"/><path fill="#ff8000" d="M13 92h1v1h-1zM34 92h1v1h-1zM36 89h1v1h-1zM57 91h1v1h-1zM65 92h1v1h-1z"/><path fill="#ff7000" d="M9 93h1v1h-1zM9 95h1v1h-1zM15 94h1v2h-1zM29 96h1v1h-1zM35 91h1v1h-1zM39 91h1v1h-1zM39 96h1v1h-1zM42 91h1v1h-1z"/><path fill="#ff6000" d="M7 94h1v1h-1zM9 94h1v1h-1zM54 91h1v1h-1z"/><path fill="#ff5000" d="M23 91h1v1h-1zM41 92h1v1h-1zM43 92h1v1h-1zM58 92h1v1h-1zM68 91h1v1h-1z"/><path fill="#ff4000" d="M13 93h1v3h-1zM29 93h1v2h-1zM34 93h1v1h-1zM43 96h1v1h-1zM45 95h1v1h-1zM57 92h1v1h-1zM57 96h1v1h-1zM65 93h1v1h-1z"/><path fill="#ff3000" d="M7 95h1v1h-1zM23 96h1v1h-1zM34 94h1v1h-1zM49 91h1v1h-1zM62 91h1v1h-1zM65 94h1v2h-1z"/><path fill="#ff1000" d="M27 91h1v1h-1zM34 95h1v1h-1zM41 93h1v1h-1zM43 93h1v1h-1z"/><path fill="#ff0000" d="M14 91h1v1h-1zM14 96h1v1h-1zM41 94h1v1h-1zM54 96h1v1h-1zM57 93h2v1h-2z"/><path fill="#ef0000" d="M20 91h1v1h-1zM40 91h1v1h-1zM41 95h1v1h-1zM42 92h1v1h-1zM43 94h1v1h-1z"/><path fill="#df0000" d="M29 95h1v1h-1zM39 92h1v1h-1zM57 94h1v1h-1z"/><path fill="#cf0000" d="M23 92h1v1h-1zM63 90h1v1h-1z"/><path fill="#bf0000" d="M35 92h1v1h-1zM39 95h1v1h-1zM43 95h1v1h-1zM48 91h1v1h-1zM54 92h1v1h-1zM57 95h1v1h-1zM58 94h1v1h-1zM68 92h1v1h-1z"/><path fill="#af0000" d="M35 96h1v1h-1zM58 96h1v1h-1z"/><path fill="#9f0000" d="M23 95h1v1h-1zM49 92h1v1h-1z"/><path fill="#8f0000" d="M14 92h1v1h-1zM14 95h1v1h-1zM23 93h1v2h-1zM27 92h1v1h-1zM35 93h1v3h-1zM36 90h1v1h-1zM39 93h1v2h-1zM40 92h1v1h-1zM42 93h1v1h-1zM48 92h1v1h-1zM54 93h1v1h-1zM58 95h1v1h-1zM62 92h1v1h-1z"/><path fill="#800000" d="M0 0h1v1h-1zM2 0h1v1h-1zM14 93h1v2h-1zM20 92h1v5h-1zM27 93h1v4h-1zM36 91h1v6h-1zM40 93h1v4h-1zM42 94h1v3h-1zM48 93h2v4h-2zM53 0h1v1h-1zM54 94h1v2h-1zM61 0h1v1h-1zM62 93h2v4h-2zM63 91h1v2h-1zM68 93h1v4h-1z"/></svg>
<polygon fill="#fff" points="159.2,772.0 164.6,772.0 168.4,775.8 168.4,781.2 164.6,785.0 159.2,785.0 155.4,781.2 155.4,775.8"/><polygon fill="#fff" points="181.8,772.0 187.2,772.0 191.0,775.8 191.0,781.2 187.2,785.0 181.8,785.0 178.0,781.2 178.0,775.8"/><polygon fill="#fff" points="272.2,772.0 277.6,772.0 281.4,775.8 281.4,781.2 277.6,785.0 272.2,785.0 268.4,781.2 268.4,775.8"/>
<g shape-rendering="crispEdges" stroke="#000" stroke-width="1" fill="none">
<rect x="155.5" y="494.5" width="792.0" height="307.0"/>
<path d="M263.5 801.5v-8M263.5 494.5v8"/>
<path d="M376.5 801.5v-8M376.5 494.5v8"/>
<path d="M489.5 801.5v-8M489.5 494.5v8"/>
<path d="M602.5 801.5v-8M602.5 494.5v8"/>
<path d="M715.5 801.5v-8M715.5 494.5v8"/>
<path d="M828.5 801.5v-8M828.5 494.5v8"/>
<path d="M941.5 801.5v-8M941.5 494.5v8"/>
<path d="M155.5 553.5h8M947.5 553.5h-8"/>
<path d="M155.5 614.5h8M947.5 614.5h-8"/>
<path d="M155.5 674.5h8M947.5 674.5h-8"/>
<path d="M155.5 735.5h8M947.5 735.5h-8"/>
<path d="M155.5 796.5h8M947.5 796.5h-8"/>
</g>
<g class="tk">
<text x="263.1" y="830.0" text-anchor="middle">10</text>
<text x="376.1" y="830.0" text-anchor="middle">20</text>
<text x="489.1" y="830.0" text-anchor="middle">30</text>
<text x="602.1" y="830.0" text-anchor="middle">40</text>
<text x="715.1" y="830.0" text-anchor="middle">50</text>
<text x="828.1" y="830.0" text-anchor="middle">60</text>
<text x="941.1" y="830.0" text-anchor="middle">70</text>
<text x="151" y="561.9" text-anchor="end">20</text>
<text x="151" y="622.5" text-anchor="end">40</text>
<text x="151" y="683.1" text-anchor="end">60</text>
<text x="151" y="743.7" text-anchor="end">80</text>
<text x="151" y="804.3" text-anchor="end">100</text>
</g>
<text class="lb" x="550" y="855.5" text-anchor="middle" style="letter-spacing:.9px">Record index</text>
<text class="lb" transform="translate(106,648.0) rotate(-90)" text-anchor="middle" style="letter-spacing:1px">P index</text>
<text class="lb" x="551" y="477.0" text-anchor="middle" style="letter-spacing:0.43px">RH(%) : 06-Oct-2012 19:10:11 - 19:11:03</text>
<g shape-rendering="crispEdges">
<rect x="979.5" y="797.688" width="41.0" height="5.312" fill="#00008f"/>
<rect x="979.5" y="792.875" width="41.0" height="5.312" fill="#00009f"/>
<rect x="979.5" y="788.062" width="41.0" height="5.312" fill="#0000af"/>
<rect x="979.5" y="783.250" width="41.0" height="5.312" fill="#0000bf"/>
<rect x="979.5" y="778.438" width="41.0" height="5.312" fill="#0000cf"/>
<rect x="979.5" y="773.625" width="41.0" height="5.312" fill="#0000df"/>
<rect x="979.5" y="768.812" width="41.0" height="5.312" fill="#0000ef"/>
<rect x="979.5" y="764.000" width="41.0" height="5.312" fill="#0000ff"/>
<rect x="979.5" y="759.188" width="41.0" height="5.312" fill="#0010ff"/>
<rect x="979.5" y="754.375" width="41.0" height="5.312" fill="#0020ff"/>
<rect x="979.5" y="749.562" width="41.0" height="5.312" fill="#0030ff"/>
<rect x="979.5" y="744.750" width="41.0" height="5.312" fill="#0040ff"/>
<rect x="979.5" y="739.938" width="41.0" height="5.312" fill="#0050ff"/>
<rect x="979.5" y="735.125" width="41.0" height="5.312" fill="#0060ff"/>
<rect x="979.5" y="730.312" width="41.0" height="5.312" fill="#0070ff"/>
<rect x="979.5" y="725.500" width="41.0" height="5.312" fill="#0080ff"/>
<rect x="979.5" y="720.688" width="41.0" height="5.312" fill="#008fff"/>
<rect x="979.5" y="715.875" width="41.0" height="5.312" fill="#009fff"/>
<rect x="979.5" y="711.062" width="41.0" height="5.312" fill="#00afff"/>
<rect x="979.5" y="706.250" width="41.0" height="5.312" fill="#00bfff"/>
<rect x="979.5" y="701.438" width="41.0" height="5.312" fill="#00cfff"/>
<rect x="979.5" y="696.625" width="41.0" height="5.312" fill="#00dfff"/>
<rect x="979.5" y="691.812" width="41.0" height="5.312" fill="#00efff"/>
<rect x="979.5" y="687.000" width="41.0" height="5.312" fill="#00ffff"/>
<rect x="979.5" y="682.188" width="41.0" height="5.312" fill="#10ffef"/>
<rect x="979.5" y="677.375" width="41.0" height="5.312" fill="#20ffdf"/>
<rect x="979.5" y="672.562" width="41.0" height="5.312" fill="#30ffcf"/>
<rect x="979.5" y="667.750" width="41.0" height="5.312" fill="#40ffbf"/>
<rect x="979.5" y="662.938" width="41.0" height="5.312" fill="#50ffaf"/>
<rect x="979.5" y="658.125" width="41.0" height="5.312" fill="#60ff9f"/>
<rect x="979.5" y="653.312" width="41.0" height="5.312" fill="#70ff8f"/>
<rect x="979.5" y="648.500" width="41.0" height="5.312" fill="#80ff80"/>
<rect x="979.5" y="643.688" width="41.0" height="5.312" fill="#8fff70"/>
<rect x="979.5" y="638.875" width="41.0" height="5.312" fill="#9fff60"/>
<rect x="979.5" y="634.062" width="41.0" height="5.312" fill="#afff50"/>
<rect x="979.5" y="629.250" width="41.0" height="5.312" fill="#bfff40"/>
<rect x="979.5" y="624.438" width="41.0" height="5.312" fill="#cfff30"/>
<rect x="979.5" y="619.625" width="41.0" height="5.312" fill="#dfff20"/>
<rect x="979.5" y="614.812" width="41.0" height="5.312" fill="#efff10"/>
<rect x="979.5" y="610.000" width="41.0" height="5.312" fill="#ffff00"/>
<rect x="979.5" y="605.188" width="41.0" height="5.312" fill="#ffef00"/>
<rect x="979.5" y="600.375" width="41.0" height="5.312" fill="#ffdf00"/>
<rect x="979.5" y="595.562" width="41.0" height="5.312" fill="#ffcf00"/>
<rect x="979.5" y="590.750" width="41.0" height="5.312" fill="#ffbf00"/>
<rect x="979.5" y="585.938" width="41.0" height="5.312" fill="#ffaf00"/>
<rect x="979.5" y="581.125" width="41.0" height="5.312" fill="#ff9f00"/>
<rect x="979.5" y="576.312" width="41.0" height="5.312" fill="#ff8f00"/>
<rect x="979.5" y="571.500" width="41.0" height="5.312" fill="#ff8000"/>
<rect x="979.5" y="566.688" width="41.0" height="5.312" fill="#ff7000"/>
<rect x="979.5" y="561.875" width="41.0" height="5.312" fill="#ff6000"/>
<rect x="979.5" y="557.062" width="41.0" height="5.312" fill="#ff5000"/>
<rect x="979.5" y="552.250" width="41.0" height="5.312" fill="#ff4000"/>
<rect x="979.5" y="547.438" width="41.0" height="5.312" fill="#ff3000"/>
<rect x="979.5" y="542.625" width="41.0" height="5.312" fill="#ff2000"/>
<rect x="979.5" y="537.812" width="41.0" height="5.312" fill="#ff1000"/>
<rect x="979.5" y="533.000" width="41.0" height="5.312" fill="#ff0000"/>
<rect x="979.5" y="528.188" width="41.0" height="5.312" fill="#ef0000"/>
<rect x="979.5" y="523.375" width="41.0" height="5.312" fill="#df0000"/>
<rect x="979.5" y="518.562" width="41.0" height="5.312" fill="#cf0000"/>
<rect x="979.5" y="513.750" width="41.0" height="5.312" fill="#bf0000"/>
<rect x="979.5" y="508.938" width="41.0" height="5.312" fill="#af0000"/>
<rect x="979.5" y="504.125" width="41.0" height="5.312" fill="#9f0000"/>
<rect x="979.5" y="499.312" width="41.0" height="5.312" fill="#8f0000"/>
<rect x="979.5" y="494.500" width="41.0" height="5.312" fill="#800000"/>
<rect x="979.5" y="494.5" width="41.0" height="308.0" fill="none" stroke="#000"/>
<path stroke="#000" d="M979.5 494.5h4M1020.5 494.5h-4"/>
<path stroke="#000" d="M979.5 555.5h4M1020.5 555.5h-4"/>
<path stroke="#000" d="M979.5 617.5h4M1020.5 617.5h-4"/>
<path stroke="#000" d="M979.5 678.5h4M1020.5 678.5h-4"/>
<path stroke="#000" d="M979.5 740.5h4M1020.5 740.5h-4"/>
<path stroke="#000" d="M979.5 802.5h4M1020.5 802.5h-4"/>
</g>
<g class="tk">
<text x="1025.5" y="502.5" style="letter-spacing:.6px">100</text>
<text x="1025.5" y="564.2" style="letter-spacing:.6px">80</text>
<text x="1025.5" y="625.8" style="letter-spacing:.6px">60</text>
<text x="1025.5" y="687.5" style="letter-spacing:.6px">40</text>
<text x="1025.5" y="749.1" style="letter-spacing:.6px">20</text>
<text x="1025.5" y="810.8" style="letter-spacing:.6px">0</text>
</g>

</svg>
</body></html>
